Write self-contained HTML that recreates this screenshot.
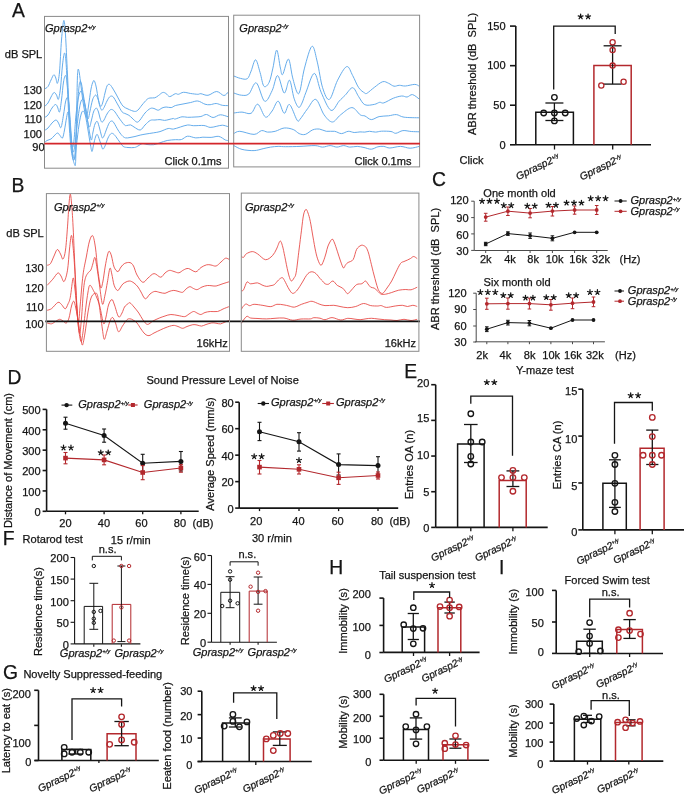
<!DOCTYPE html>
<html><head><meta charset="utf-8"><title>Figure</title>
<style>
html,body{margin:0;padding:0;background:#fff;}
body{width:685px;height:797px;overflow:hidden;}
svg{display:block;}
text{font-family:"Liberation Sans",sans-serif;fill:#151515;stroke:#151515;stroke-width:0.25px;}
svg{will-change:transform;}
</style></head><body>
<svg width="685" height="797" viewBox="0 0 685 797">
<rect x="0" y="0" width="685" height="797" fill="#fff"/>
<path d="M44.5,89 C45.08,88.58 46.92,88 48,86.5 C49.08,85 50.03,81.95 51,80 C51.97,78.05 53,75.13 53.8,74.8 C54.6,74.47 55.2,76.58 55.8,78 C56.4,79.42 56.78,84.3 57.4,83.3 C58.02,82.3 58.82,79.22 59.5,72 C60.18,64.78 60.78,48.58 61.5,40 C62.22,31.42 63.13,21.33 63.8,20.5 C64.47,19.67 64.88,25.92 65.5,35 C66.12,44.08 66.75,60 67.5,75 C68.25,90 69.17,111.67 70,125 C70.83,138.33 71.75,148.5 72.5,155 C73.25,161.5 73.97,163.17 74.5,164 C75.03,164.83 75.33,169 75.7,160 C76.07,151 76.42,123.67 76.7,110 C76.98,96.33 77.17,84.78 77.4,78 C77.63,71.22 77.78,70.13 78.1,69.3 C78.42,68.47 78.82,70.22 79.3,73 C79.78,75.78 80.3,80.67 81,86 C81.7,91.33 82.58,99.83 83.5,105 C84.42,110.17 85.67,116.83 86.5,117 C87.33,117.17 87.75,110.67 88.5,106 C89.25,101.33 90.25,93.03 91,89 C91.75,84.97 92.43,83.13 93,81.8 C93.57,80.47 93.87,80.13 94.4,81 C94.93,81.87 95.52,83.83 96.2,87 C96.88,90.17 97.77,96.78 98.5,100 C99.23,103.22 99.92,105.8 100.6,106.3 C101.28,106.8 101.87,105.22 102.6,103 C103.33,100.78 104.27,95.83 105,93 C105.73,90.17 106.32,87.45 107,86 C107.68,84.55 108.35,84.22 109.1,84.3 C109.85,84.38 110.35,84.88 111.5,86.5 C112.65,88.12 114.58,91.5 116,94 C117.42,96.5 118.8,99.45 120,101.5 C121.2,103.55 121.87,105.05 123.2,106.3 C124.53,107.55 126.12,108.15 128,109 C129.88,109.85 132.83,111.23 134.5,111.4 C136.17,111.57 136.75,111.07 138,110 C139.25,108.93 140.52,106.75 142,105 C143.48,103.25 145.57,100.67 146.9,99.5 C148.23,98.33 148.68,98.28 150,98 C151.32,97.72 153.38,98.22 154.8,97.8 C156.22,97.38 157.18,96.38 158.5,95.5 C159.82,94.62 161.45,92.83 162.7,92.5 C163.95,92.17 164.83,92.82 166,93.5 C167.17,94.18 168.15,96.57 169.7,96.6 C171.25,96.63 173.85,94.08 175.3,93.7 C176.75,93.32 177.03,94.53 178.4,94.3 C179.77,94.07 181.45,92.43 183.5,92.3 C185.55,92.17 188.32,93.17 190.7,93.5 C193.08,93.83 196.1,94.27 197.8,94.3 C199.5,94.33 199.2,93.53 200.9,93.7 C202.6,93.87 205.37,95.67 208,95.3 C210.63,94.93 214.05,91.47 216.7,91.5 C219.35,91.53 221.97,95.42 223.9,95.5 C225.83,95.58 227.57,92.58 228.3,92" fill="none" stroke="#66adec" stroke-width="1"/>
<path d="M44.5,106.5 C45.08,105.92 46.92,104.58 48,103 C49.08,101.42 50,98.75 51,97 C52,95.25 53.08,92.83 54,92.5 C54.92,92.17 55.77,93.87 56.5,95 C57.23,96.13 57.73,100.47 58.4,99.3 C59.07,98.13 59.82,93.72 60.5,88 C61.18,82.28 61.83,70.83 62.5,65 C63.17,59.17 63.92,53.5 64.5,53 C65.08,52.5 65.5,55.83 66,62 C66.5,68.17 66.92,78.67 67.5,90 C68.08,101.33 68.83,119.67 69.5,130 C70.17,140.33 70.78,146.95 71.5,152 C72.22,157.05 73.17,160.63 73.8,160.3 C74.43,159.97 74.72,158.38 75.3,150 C75.88,141.62 76.68,120.5 77.3,110 C77.92,99.5 78.52,91.77 79,87 C79.48,82.23 79.78,81.9 80.2,81.4 C80.62,80.9 80.95,81.57 81.5,84 C82.05,86.43 82.75,91.67 83.5,96 C84.25,100.33 85.25,106.17 86,110 C86.75,113.83 87.33,118.83 88,119 C88.67,119.17 89.25,114.17 90,111 C90.75,107.83 91.75,102.5 92.5,100 C93.25,97.5 93.92,96.8 94.5,96 C95.08,95.2 95.42,94.7 96,95.2 C96.58,95.7 97.37,97.2 98,99 C98.63,100.8 99.17,104.13 99.8,106 C100.43,107.87 101.1,109.95 101.8,110.2 C102.5,110.45 103.13,109.03 104,107.5 C104.87,105.97 106.08,102.75 107,101 C107.92,99.25 108.68,97.82 109.5,97 C110.32,96.18 111.15,95.93 111.9,96.1 C112.65,96.27 112.98,96.52 114,98 C115.02,99.48 116.65,102.68 118,105 C119.35,107.32 120.93,110.48 122.1,111.9 C123.27,113.32 123.87,112.93 125,113.5 C126.13,114.07 127.73,114.55 128.9,115.3 C130.07,116.05 130.68,116.87 132,118 C133.32,119.13 135.47,121.77 136.8,122.1 C138.13,122.43 138.63,121.52 140,120 C141.37,118.48 143.28,114.92 145,113 C146.72,111.08 148.8,109.25 150.3,108.5 C151.8,107.75 152.68,108.22 154,108.5 C155.32,108.78 156.87,110.28 158.2,110.2 C159.53,110.12 160.68,108.53 162,108 C163.32,107.47 164.57,107.07 166.1,107 C167.63,106.93 169.67,107.83 171.2,107.6 C172.73,107.37 173.33,106.2 175.3,105.6 C177.27,105 180.43,104.52 183,104 C185.57,103.48 188.23,103 190.7,102.5 C193.17,102 195.42,100.72 197.8,101 C200.18,101.28 202.95,103.58 205,104.2 C207.05,104.82 208.23,104.82 210.1,104.7 C211.97,104.58 214.17,103.4 216.2,103.5 C218.23,103.6 220.28,104.95 222.3,105.3 C224.32,105.65 227.3,105.55 228.3,105.6" fill="none" stroke="#66adec" stroke-width="1"/>
<path d="M44.5,117.5 C45.08,117.08 46.75,116.58 48,115 C49.25,113.42 50.75,109.75 52,108 C53.25,106.25 54.58,104.67 55.5,104.5 C56.42,104.33 56.83,105.75 57.5,107 C58.17,108.25 58.83,113.17 59.5,112 C60.17,110.83 60.83,105 61.5,100 C62.17,95 62.83,86.08 63.5,82 C64.17,77.92 64.92,75.5 65.5,75.5 C66.08,75.5 66.5,77.92 67,82 C67.5,86.08 67.92,92 68.5,100 C69.08,108 69.85,122.17 70.5,130 C71.15,137.83 71.82,145.33 72.4,147 C72.98,148.67 73.4,145.33 74,140 C74.6,134.67 75.25,122.17 76,115 C76.75,107.83 77.63,101.05 78.5,97 C79.37,92.95 80.45,90.87 81.2,90.7 C81.95,90.53 82.37,93.12 83,96 C83.63,98.88 84.25,103.83 85,108 C85.75,112.17 86.75,117.83 87.5,121 C88.25,124.17 88.83,127.17 89.5,127 C90.17,126.83 90.83,122.5 91.5,120 C92.17,117.5 92.83,113.92 93.5,112 C94.17,110.08 94.97,109.12 95.5,108.5 C96.03,107.88 96.2,107.72 96.7,108.3 C97.2,108.88 97.95,110.38 98.5,112 C99.05,113.62 99.45,116.32 100,118 C100.55,119.68 101.13,121.77 101.8,122.1 C102.47,122.43 103.13,121.35 104,120 C104.87,118.65 106,115.67 107,114 C108,112.33 109.08,110.72 110,110 C110.92,109.28 111.67,109.37 112.5,109.7 C113.33,110.03 113.92,110.62 115,112 C116.08,113.38 117.43,115.85 119,118 C120.57,120.15 123.07,123.65 124.4,124.9 C125.73,126.15 125.97,125.5 127,125.5 C128.03,125.5 129.43,124.65 130.6,124.9 C131.77,125.15 132.4,126.15 134,127 C135.6,127.85 138.37,130.33 140.2,130 C142.03,129.67 143.32,126.6 145,125 C146.68,123.4 148.63,121.23 150.3,120.4 C151.97,119.57 153.38,120.13 155,120 C156.62,119.87 158.4,119.53 160,119.6 C161.6,119.67 163.1,120.42 164.6,120.4 C166.1,120.38 167.55,119.82 169,119.5 C170.45,119.18 172.25,118.58 173.3,118.5 C174.35,118.42 173.85,119.28 175.3,119 C176.75,118.72 179.95,117.08 182,116.8 C184.05,116.52 185.43,117.27 187.6,117.3 C189.77,117.33 192.78,117.13 195,117 C197.22,116.87 198.98,116.92 200.9,116.5 C202.82,116.08 204.47,114.33 206.5,114.5 C208.53,114.67 210.8,117.45 213.1,117.5 C215.4,117.55 217.77,114.92 220.3,114.8 C222.83,114.68 226.97,116.47 228.3,116.8" fill="none" stroke="#66adec" stroke-width="1"/>
<path d="M44.5,130.5 C45.08,130.08 46.75,129.25 48,128 C49.25,126.75 50.67,124.33 52,123 C53.33,121.67 54.92,120 56,120 C57.08,120 57.67,121.75 58.5,123 C59.33,124.25 60.17,128.83 61,127.5 C61.83,126.17 62.75,119.25 63.5,115 C64.25,110.75 64.85,104.9 65.5,102 C66.15,99.1 66.82,97.1 67.4,97.6 C67.98,98.1 68.48,100.43 69,105 C69.52,109.57 70,118.33 70.5,125 C71,131.67 71.5,140.5 72,145 C72.5,149.5 72.92,152.83 73.5,152 C74.08,151.17 74.75,145.67 75.5,140 C76.25,134.33 77.17,124.17 78,118 C78.83,111.83 79.68,106.12 80.5,103 C81.32,99.88 82.15,98.97 82.9,99.3 C83.65,99.63 84.23,101.55 85,105 C85.77,108.45 86.67,115 87.5,120 C88.33,125 89.33,131.67 90,135 C90.67,138.33 91,140.5 91.5,140 C92,139.5 92.42,134.67 93,132 C93.58,129.33 94.28,125.75 95,124 C95.72,122.25 96.55,120.83 97.3,121.5 C98.05,122.17 98.88,125.92 99.5,128 C100.12,130.08 100.53,132.35 101,134 C101.47,135.65 101.8,137.57 102.3,137.9 C102.8,138.23 103.22,137.65 104,136 C104.78,134.35 106.08,130.25 107,128 C107.92,125.75 108.68,123.67 109.5,122.5 C110.32,121.33 111.15,120.92 111.9,121 C112.65,121.08 112.98,121.5 114,123 C115.02,124.5 116.67,127.92 118,130 C119.33,132.08 120.75,134.18 122,135.5 C123.25,136.82 124.17,137.57 125.5,137.9 C126.83,138.23 128.42,137.73 130,137.5 C131.58,137.27 133.3,136.9 135,136.5 C136.7,136.1 138.37,135.52 140.2,135.1 C142.03,134.68 143.75,134.38 146,134 C148.25,133.62 151.37,133.2 153.7,132.8 C156.03,132.4 157.58,132.32 160,131.6 C162.42,130.88 165.98,128.92 168.2,128.5 C170.42,128.08 171.27,129.35 173.3,129.1 C175.33,128.85 178.02,127.68 180.4,127 C182.78,126.32 185.38,125.22 187.6,125 C189.82,124.78 190.98,125.62 193.7,125.7 C196.42,125.78 201.17,125.22 203.9,125.5 C206.63,125.78 208.05,127.25 210.1,127.4 C212.15,127.55 214.17,126.77 216.2,126.4 C218.23,126.03 220.28,125.15 222.3,125.2 C224.32,125.25 227.3,126.45 228.3,126.7" fill="none" stroke="#66adec" stroke-width="1"/>
<path d="M44.5,142.5 C44.92,142.17 45.92,141.08 47,140.5 C48.08,139.92 49.83,139.75 51,139 C52.17,138.25 52.92,137 54,136 C55.08,135 56.5,133.08 57.5,133 C58.5,132.92 59.17,134.67 60,135.5 C60.83,136.33 61.75,138.92 62.5,138 C63.25,137.08 63.83,133.33 64.5,130 C65.17,126.67 65.92,121 66.5,118 C67.08,115 67.5,111.67 68,112 C68.5,112.33 69,115.33 69.5,120 C70,124.67 70.42,134.17 71,140 C71.58,145.83 72.37,152 73,155 C73.63,158 74.22,159.67 74.8,158 C75.38,156.33 75.8,150.5 76.5,145 C77.2,139.5 78.17,130.33 79,125 C79.83,119.67 80.73,115.27 81.5,113 C82.27,110.73 82.93,110.9 83.6,111.4 C84.27,111.9 84.77,112.9 85.5,116 C86.23,119.1 87.17,125.17 88,130 C88.83,134.83 89.83,141.42 90.5,145 C91.17,148.58 91.5,151.5 92,151.5 C92.5,151.5 92.92,147.42 93.5,145 C94.08,142.58 94.87,138.75 95.5,137 C96.13,135.25 96.63,134 97.3,134.5 C97.97,135 98.8,138.08 99.5,140 C100.2,141.92 100.93,144.47 101.5,146 C102.07,147.53 102.32,149.2 102.9,149.2 C103.48,149.2 104.15,147.87 105,146 C105.85,144.13 107.08,140 108,138 C108.92,136 109.75,134.77 110.5,134 C111.25,133.23 111.75,133.15 112.5,133.4 C113.25,133.65 113.92,134.23 115,135.5 C116.08,136.77 117.63,139.18 119,141 C120.37,142.82 121.7,145.32 123.2,146.4 C124.7,147.48 126.12,147.32 128,147.5 C129.88,147.68 132.83,147.75 134.5,147.5 C136.17,147.25 136.68,146.65 138,146 C139.32,145.35 140.9,143.85 142.4,143.6 C143.9,143.35 145.12,144.32 147,144.5 C148.88,144.68 151.53,144.98 153.7,144.7 C155.87,144.42 157.75,143.5 160,142.8 C162.25,142.1 164.65,141.02 167.2,140.5 C169.75,139.98 172.92,139.87 175.3,139.7 C177.68,139.53 179.45,140.08 181.5,139.5 C183.55,138.92 185.22,136.47 187.6,136.2 C189.98,135.93 193.25,137.73 195.8,137.9 C198.35,138.07 200.35,137.28 202.9,137.2 C205.45,137.12 208.45,137.53 211.1,137.4 C213.75,137.27 216.42,135.97 218.8,136.4 C221.18,136.83 223.82,139.32 225.4,140 C226.98,140.68 227.82,140.42 228.3,140.5" fill="none" stroke="#66adec" stroke-width="1"/>
<path d="M233.8,76 C234.92,76.4 238.25,77.95 240.5,78.4 C242.75,78.85 245.53,79.92 247.3,78.7 C249.07,77.48 249.72,74.25 251.1,71.1 C252.48,67.95 254.1,59.55 255.6,59.8 C257.1,60.05 258.72,68.2 260.1,72.6 C261.48,77 262.4,84.57 263.9,86.2 C265.4,87.83 267.6,85.42 269.1,82.4 C270.6,79.38 271.63,73.48 272.9,68.1 C274.17,62.72 275.45,50.1 276.7,50.1 C277.95,50.1 279.4,64.05 280.4,68.1 C281.4,72.15 281.37,75.9 282.7,74.4 C284.03,72.9 286.77,58.65 288.4,59.1 C290.03,59.55 291.07,71.58 292.5,77.1 C293.93,82.62 295.75,89.93 297,92.2 C298.25,94.47 298.75,94.72 300,90.7 C301.25,86.68 302.5,75.5 304.5,68.1 C306.5,60.7 309.87,47.3 312,46.3 C314.13,45.3 315.53,55.2 317.3,62.1 C319.07,69 320.58,81.48 322.6,87.7 C324.62,93.92 326.9,100.65 329.4,99.4 C331.9,98.15 334.72,85.67 337.6,80.2 C340.48,74.73 344.18,67.37 346.7,66.6 C349.22,65.83 350.7,72.08 352.7,75.6 C354.7,79.12 356.7,84.8 358.7,87.7 C360.7,90.6 363.28,92.1 364.7,93 C366.12,93.9 365.6,94.03 367.2,93.1 C368.8,92.17 371.72,89.3 374.3,87.4 C376.88,85.5 380.32,82.38 382.7,81.7 C385.08,81.02 386.72,82.55 388.6,83.3 C390.48,84.05 392.22,85.87 394,86.2 C395.78,86.53 397.42,85.33 399.3,85.3 C401.18,85.27 402.72,86.15 405.3,86 C407.88,85.85 412.47,84.37 414.8,84.4 C417.13,84.43 418.55,85.9 419.3,86.2" fill="none" stroke="#66adec" stroke-width="1"/>
<path d="M233.8,93 C235.05,93.37 238.8,95.03 241.3,95.2 C243.8,95.37 246.3,96.05 248.8,94 C251.3,91.95 253.67,81.7 256.3,82.9 C258.93,84.1 261.97,99.9 264.6,101.2 C267.23,102.5 269.92,94.97 272.1,90.7 C274.28,86.43 275.68,75.22 277.7,75.6 C279.72,75.98 282.23,92.23 284.2,93 C286.17,93.77 287.87,79.33 289.5,80.2 C291.13,81.07 292.5,93.68 294,98.2 C295.5,102.72 297.17,106.5 298.5,107.3 C299.83,108.1 300.75,105.52 302,103 C303.25,100.48 303.95,97.13 306,92.2 C308.05,87.27 311.78,73.4 314.3,73.4 C316.82,73.4 318.33,86.05 321.1,92.2 C323.87,98.35 327.9,108.8 330.9,110.3 C333.9,111.8 336.72,103.72 339.1,101.2 C341.48,98.68 342.93,97.45 345.2,95.2 C347.47,92.95 350.45,87.45 352.7,87.7 C354.95,87.95 356.68,93.87 358.7,96.7 C360.72,99.53 362.2,103.42 364.8,104.7 C367.4,105.98 371.82,104.8 374.3,104.4 C376.78,104 378.12,102.55 379.7,102.3 C381.28,102.05 381.52,103.58 383.8,102.9 C386.08,102.22 390.42,99.35 393.4,98.2 C396.38,97.05 399.42,96.2 401.7,96 C403.98,95.8 405.3,97.23 407.1,97 C408.9,96.77 410.47,94.25 412.5,94.6 C414.53,94.95 418.17,98.35 419.3,99.1" fill="none" stroke="#66adec" stroke-width="1"/>
<path d="M233.8,113 C235.17,112.85 239.12,112.05 242,112.1 C244.88,112.15 248.47,114.62 251.1,113.3 C253.73,111.98 255.42,103.58 257.8,104.2 C260.18,104.82 263.02,115.87 265.4,117 C267.78,118.13 269.97,113.63 272.1,111 C274.23,108.37 276.18,100.82 278.2,101.2 C280.22,101.58 282.32,112.75 284.2,113.3 C286.08,113.85 287.37,103.38 289.5,104.5 C291.63,105.62 295.25,117.53 297,120 C298.75,122.47 298.25,121.17 300,119.3 C301.75,117.43 304.87,112.12 307.5,108.8 C310.13,105.48 313.03,98.4 315.8,99.4 C318.57,100.4 321.33,111.03 324.1,114.8 C326.87,118.57 329.65,122 332.4,122 C335.15,122 337.35,117.2 340.6,114.8 C343.85,112.4 348.63,107.6 351.9,107.6 C355.17,107.6 358.02,113.4 360.2,114.8 C362.38,116.2 363.15,115.2 365,116 C366.85,116.8 368.95,119.5 371.3,119.6 C373.65,119.7 376.22,117.23 379.1,116.6 C381.98,115.97 385.72,116.13 388.6,115.8 C391.48,115.47 393.82,114.37 396.4,114.6 C398.98,114.83 400.28,116.67 404.1,117.2 C407.92,117.73 416.77,117.7 419.3,117.8" fill="none" stroke="#66adec" stroke-width="1"/>
<path d="M233.8,133.6 C234.8,133.22 236.42,131.17 239.8,131.3 C243.18,131.43 250.47,134.52 254.1,134.4 C257.73,134.28 259.35,130.98 261.6,130.6 C263.85,130.22 265.33,131.98 267.6,132.1 C269.87,132.22 272.43,131.98 275.2,131.3 C277.97,130.62 281.2,128.3 284.2,128 C287.2,127.7 290.7,128.57 293.2,129.5 C295.7,130.43 297.18,132.78 299.2,133.6 C301.22,134.42 303.03,135.03 305.3,134.4 C307.57,133.77 310.42,130.68 312.8,129.8 C315.18,128.92 317.35,128.85 319.6,129.1 C321.85,129.35 323.8,130.93 326.3,131.3 C328.8,131.67 332.08,130.92 334.6,131.3 C337.12,131.68 339.13,133.6 341.4,133.6 C343.67,133.6 346.07,131.48 348.2,131.3 C350.33,131.12 352.23,132.4 354.2,132.5 C356.17,132.6 358.23,131.97 360,131.9 C361.77,131.83 363.22,132.2 364.8,132.1 C366.38,132 367.72,131.3 369.5,131.3 C371.28,131.3 373.5,132.12 375.5,132.1 C377.5,132.08 378.92,131.3 381.5,131.2 C384.08,131.1 388.62,131.15 391,131.5 C393.38,131.85 393.82,133.45 395.8,133.3 C397.78,133.15 400.32,130.9 402.9,130.6 C405.48,130.3 408.57,131.3 411.3,131.5 C414.03,131.7 417.97,131.75 419.3,131.8" fill="none" stroke="#66adec" stroke-width="1"/>
<path d="M233.8,145.6 C235.17,146.23 238.62,148.57 242,149.4 C245.38,150.23 250.58,150.72 254.1,150.6 C257.62,150.48 260.35,149.28 263.1,148.7 C265.85,148.12 268.08,147.48 270.6,147.1 C273.12,146.72 275.68,146.47 278.2,146.4 C280.72,146.33 282.07,146.7 285.7,146.7 C289.33,146.7 295.1,146.58 300,146.4 C304.9,146.22 311.33,145.48 315.1,145.6 C318.87,145.72 320.1,147.1 322.6,147.1 C325.1,147.1 327.72,145.6 330.1,145.6 C332.48,145.6 334.63,147.1 336.9,147.1 C339.17,147.1 341.57,145.6 343.7,145.6 C345.83,145.6 347.45,146.97 349.7,147.1 C351.95,147.23 354.82,146.33 357.2,146.4 C359.58,146.47 361.65,147.03 364,147.5 C366.35,147.97 368.98,149.32 371.3,149.2 C373.62,149.08 375.82,147.27 377.9,146.8 C379.98,146.33 381.82,146.2 383.8,146.4 C385.78,146.6 387.02,148 389.8,148 C392.58,148 397.12,146.37 400.5,146.4 C403.88,146.43 406.97,148.2 410.1,148.2 C413.23,148.2 417.77,146.7 419.3,146.4" fill="none" stroke="#66adec" stroke-width="1"/>
<path d="M47.1,265.3 C47.67,265.02 49.35,265.15 50.5,263.6 C51.65,262.05 52.87,258.35 54,256 C55.13,253.65 56.22,249.83 57.3,249.5 C58.38,249.17 59.55,252.4 60.5,254 C61.45,255.6 62.17,259.77 63,259.1 C63.83,258.43 64.75,255.37 65.5,250 C66.25,244.63 66.92,234.57 67.5,226.9 C68.08,219.23 68.53,209.47 69,204 C69.47,198.53 69.87,194.1 70.3,194.1 C70.73,194.1 71.13,198.53 71.6,204 C72.07,209.47 72.45,214.23 73.1,226.9 C73.75,239.57 74.77,265.32 75.5,280 C76.23,294.68 76.98,307.87 77.5,315 C78.02,322.13 78.15,324.47 78.6,322.8 C79.05,321.13 79.47,312.97 80.2,305 C80.93,297.03 81.98,283 83,275 C84.02,267 85.22,262.67 86.3,257 C87.38,251.33 88.42,244.53 89.5,241 C90.58,237.47 91.8,234.63 92.8,235.8 C93.8,236.97 94.7,242.63 95.5,248 C96.3,253.37 96.75,261.43 97.6,268 C98.45,274.57 99.73,285.07 100.6,287.4 C101.47,289.73 102.05,285.38 102.8,282 C103.55,278.62 104.32,271.6 105.1,267.1 C105.88,262.6 106.8,257.63 107.5,255 C108.2,252.37 108.63,251.13 109.3,251.3 C109.97,251.47 110.7,253.37 111.5,256 C112.3,258.63 113.03,264.5 114.1,267.1 C115.17,269.7 116.75,271.62 117.9,271.6 C119.05,271.58 119.87,268.37 121,267 C122.13,265.63 123.2,264.13 124.7,263.4 C126.2,262.67 128.53,262.17 130,262.6 C131.47,263.03 132.33,263.93 133.5,266 C134.67,268.07 135.45,272.28 137,275 C138.55,277.72 140.97,281.8 142.8,282.3 C144.63,282.8 146.12,279.45 148,278 C149.88,276.55 151.98,273.73 154.1,273.6 C156.22,273.47 158.88,277.3 160.7,277.2 C162.52,277.1 163.55,274.13 165,273 C166.45,271.87 167.9,270.65 169.4,270.4 C170.9,270.15 172.42,271.1 174,271.5 C175.58,271.9 177.32,273.05 178.9,272.8 C180.48,272.55 181.92,270.72 183.5,270 C185.08,269.28 186.37,268.2 188.4,268.5 C190.43,268.8 193.6,271.97 195.7,271.8 C197.8,271.63 199.18,268.67 201,267.5 C202.82,266.33 204.93,265.22 206.6,264.8 C208.27,264.38 209.42,264.8 211,265 C212.58,265.2 214.43,266.5 216.1,266 C217.77,265.5 219.42,263.3 221,262 C222.58,260.7 224.17,258.58 225.6,258.2 C227.03,257.82 228.93,259.45 229.6,259.7" fill="none" stroke="#e6423f" stroke-width="0.85"/>
<path d="M47.1,285.4 C48.05,284.37 51,281.27 52.8,279.2 C54.6,277.13 56.53,273.53 57.9,273 C59.27,272.47 59.97,274.58 61,276 C62.03,277.42 63.02,282.47 64.1,281.5 C65.18,280.53 66.6,275.62 67.5,270.2 C68.4,264.78 68.85,254.8 69.5,249 C70.15,243.2 70.82,235.9 71.4,235.4 C71.98,234.9 72.43,240.23 73,246 C73.57,251.77 74.13,259.33 74.8,270 C75.47,280.67 76.22,299.45 77,310 C77.78,320.55 78.75,331.97 79.5,333.3 C80.25,334.63 80.83,325.22 81.5,318 C82.17,310.78 82.83,296.72 83.5,290 C84.17,283.28 84.67,280.63 85.5,277.7 C86.33,274.77 87.62,273.67 88.5,272.4 C89.38,271.13 90.08,271.5 90.8,270.1 C91.52,268.7 92.12,266.12 92.8,264 C93.48,261.88 94.2,256.73 94.9,257.4 C95.6,258.07 96.3,263.87 97,268 C97.7,272.13 98.2,276.2 99.1,282.2 C100,288.2 101.42,301.87 102.4,304 C103.38,306.13 104.17,298.63 105,295 C105.83,291.37 106.58,286.65 107.4,282.2 C108.22,277.75 109.17,269.67 109.9,268.3 C110.63,266.93 111.1,271.18 111.8,274 C112.5,276.82 113.17,282.45 114.1,285.2 C115.03,287.95 116.42,290.03 117.4,290.5 C118.38,290.97 119.05,289.13 120,288 C120.95,286.87 121.57,284.87 123.1,283.7 C124.63,282.53 127.38,281.12 129.2,281 C131.02,280.88 132.53,282 134,283 C135.47,284 136.83,285.5 138,287 C139.17,288.5 139.78,290.03 141,292 C142.22,293.97 143.8,298.47 145.3,298.8 C146.8,299.13 148.42,295.23 150,294 C151.58,292.77 153.13,291.65 154.8,291.4 C156.47,291.15 158.3,292.18 160,292.5 C161.7,292.82 163.5,293.47 165,293.3 C166.5,293.13 167.53,291.98 169,291.5 C170.47,291.02 172.3,290.43 173.8,290.4 C175.3,290.37 176.53,290.98 178,291.3 C179.47,291.62 181.27,292.68 182.6,292.3 C183.93,291.92 184.78,289.93 186,289 C187.22,288.07 188.65,286.78 189.9,286.7 C191.15,286.62 192.28,288.02 193.5,288.5 C194.72,288.98 195.78,289.85 197.2,289.6 C198.62,289.35 200.3,287.68 202,287 C203.7,286.32 205.73,285.7 207.4,285.5 C209.07,285.3 210.55,285.72 212,285.8 C213.45,285.88 214.43,286.3 216.1,286 C217.77,285.7 219.75,284.73 222,284 C224.25,283.27 228.33,282 229.6,281.6" fill="none" stroke="#e6423f" stroke-width="0.85"/>
<path d="M47.1,310.3 C47.85,310.02 49.8,309.92 51.6,308.6 C53.4,307.28 56.25,303.08 57.9,302.4 C59.55,301.72 60.28,303.43 61.5,304.5 C62.72,305.57 64.12,308.88 65.2,308.8 C66.28,308.72 67.15,305.92 68,304 C68.85,302.08 69.45,301.62 70.3,297.3 C71.15,292.98 72.35,279.65 73.1,278.1 C73.85,276.55 74.23,283.52 74.8,288 C75.37,292.48 75.88,298.33 76.5,305 C77.12,311.67 77.75,321.9 78.5,328 C79.25,334.1 80.25,340.93 81,341.6 C81.75,342.27 82.25,337.27 83,332 C83.75,326.73 84.67,316.67 85.5,310 C86.33,303.33 87.25,296.13 88,292 C88.75,287.87 89.03,285.33 90,285.2 C90.97,285.07 92.72,289.23 93.8,291.2 C94.88,293.17 95.5,294.48 96.5,297 C97.5,299.52 98.62,301.87 99.8,306.3 C100.98,310.73 102.57,321.82 103.6,323.6 C104.63,325.38 105.18,320.1 106,317 C106.82,313.9 107.52,307.92 108.5,305 C109.48,302.08 110.9,299.5 111.9,299.5 C112.9,299.5 113.38,302.12 114.5,305 C115.62,307.88 117.35,315.47 118.6,316.8 C119.85,318.13 121.02,314.63 122,313 C122.98,311.37 123.55,308.5 124.5,307 C125.45,305.5 126.78,304.7 127.7,304 C128.62,303.3 128.95,302.3 130,302.8 C131.05,303.3 132.53,305.3 134,307 C135.47,308.7 137.3,310.83 138.8,313 C140.3,315.17 141.55,318.1 143,320 C144.45,321.9 145.83,324.23 147.5,324.4 C149.17,324.57 151.05,322.05 153,321 C154.95,319.95 157.2,318.93 159.2,318.1 C161.2,317.27 163.05,316.6 165,316 C166.95,315.4 168.73,314.58 170.9,314.5 C173.07,314.42 175.7,315.15 178,315.5 C180.3,315.85 182.87,316.85 184.7,316.6 C186.53,316.35 187.53,314.85 189,314 C190.47,313.15 192.17,311.67 193.5,311.5 C194.83,311.33 195.78,312.5 197,313 C198.22,313.5 199.47,314.58 200.8,314.5 C202.13,314.42 203.42,313 205,312.5 C206.58,312 208.2,311.67 210.3,311.5 C212.4,311.33 215.48,311.92 217.6,311.5 C219.72,311.08 221,309.85 223,309 C225,308.15 228.5,306.83 229.6,306.4" fill="none" stroke="#e6423f" stroke-width="0.85"/>
<path d="M47.1,323 C47.85,323.13 50.2,324.05 51.6,323.8 C53,323.55 54.17,322.25 55.5,321.5 C56.83,320.75 58.35,319.38 59.6,319.3 C60.85,319.22 61.88,320.38 63,321 C64.12,321.62 65.3,323.5 66.3,323 C67.3,322.5 68.13,320.83 69,318 C69.87,315.17 70.72,308.8 71.5,306 C72.28,303.2 72.98,300.87 73.7,301.2 C74.42,301.53 74.95,304.03 75.8,308 C76.65,311.97 77.97,320 78.8,325 C79.63,330 80.18,334.67 80.8,338 C81.42,341.33 81.8,345.83 82.5,345 C83.2,344.17 84.08,338.5 85,333 C85.92,327.5 87,317.83 88,312 C89,306.17 89.9,301.08 91,298 C92.1,294.92 93.5,293.88 94.6,293.5 C95.7,293.12 96.6,292.07 97.6,295.7 C98.6,299.33 99.78,309.58 100.6,315.3 C101.42,321.02 101.88,325.98 102.5,330 C103.12,334.02 103.55,339.23 104.3,339.4 C105.05,339.57 106.05,334.07 107,331 C107.95,327.93 109.07,323.25 110,321 C110.93,318.75 111.68,317.17 112.6,317.5 C113.52,317.83 114.5,320.62 115.5,323 C116.5,325.38 117.43,331.3 118.6,331.8 C119.77,332.3 121.12,328 122.5,326 C123.88,324 125.65,321 126.9,319.8 C128.15,318.6 128.98,318.77 130,318.8 C131.02,318.83 131.83,319.3 133,320 C134.17,320.7 135.67,321.5 137,323 C138.33,324.5 139.67,327.17 141,329 C142.33,330.83 143.67,332.9 145,334 C146.33,335.1 147.5,335.77 149,335.6 C150.5,335.43 152.05,333.97 154,333 C155.95,332.03 158.7,330.72 160.7,329.8 C162.7,328.88 163.93,328.23 166,327.5 C168.07,326.77 171.1,325.57 173.1,325.4 C175.1,325.23 176.42,326.02 178,326.5 C179.58,326.98 181.1,328.3 182.6,328.3 C184.1,328.3 185.3,327.1 187,326.5 C188.7,325.9 191.13,324.95 192.8,324.7 C194.47,324.45 195.55,324.77 197,325 C198.45,325.23 200,326.18 201.5,326.1 C203,326.02 204.28,325.03 206,324.5 C207.72,323.97 210.13,323.12 211.8,322.9 C213.47,322.68 214.55,323.03 216,323.2 C217.45,323.37 219,324.1 220.5,323.9 C222,323.7 223.48,322.6 225,322 C226.52,321.4 228.83,320.58 229.6,320.3" fill="none" stroke="#e6423f" stroke-width="0.85"/>
<path d="M241.4,256.2 C241.75,256.4 242.7,257.78 243.5,257.4 C244.3,257.02 244.73,254.87 246.2,253.9 C247.67,252.93 250.4,251.6 252.3,251.6 C254.2,251.6 255.4,252.55 257.6,253.9 C259.8,255.25 263.02,259.42 265.5,259.7 C267.98,259.98 270.67,257.38 272.5,255.6 C274.33,253.82 275.23,251.42 276.5,249 C277.77,246.58 279.1,241.6 280.1,241.1 C281.1,240.6 281.72,243.43 282.5,246 C283.28,248.57 283.88,252.17 284.8,256.5 C285.72,260.83 286.97,267.95 288,272 C289.03,276.05 290,279.8 291,280.8 C292,281.8 293.13,279.42 294,278 C294.87,276.58 295.37,276.97 296.2,272.3 C297.03,267.63 298.12,257.02 299,250 C299.88,242.98 300.75,236.03 301.5,230.2 C302.25,224.37 302.77,218.47 303.5,215 C304.23,211.53 305.15,209.73 305.9,209.4 C306.65,209.07 307.27,211 308,213 C308.73,215 309.47,217.4 310.3,221.4 C311.13,225.4 312.12,232.03 313,237 C313.88,241.97 314.77,247.37 315.6,251.2 C316.43,255.03 317.12,257.65 318,260 C318.88,262.35 319.98,265.13 320.9,265.3 C321.82,265.47 322.63,263.05 323.5,261 C324.37,258.95 325.35,255.5 326.1,253 C326.85,250.5 327.02,248.3 328,246 C328.98,243.7 330.92,239.7 332,239.2 C333.08,238.7 333.62,241 334.5,243 C335.38,245 336.3,248.2 337.3,251.2 C338.3,254.2 339.48,258.22 340.5,261 C341.52,263.78 342.57,267.23 343.4,267.9 C344.23,268.57 344.77,265.88 345.5,265 C346.23,264.12 346.53,263.5 347.8,262.6 C349.07,261.7 351.63,261.8 353.1,259.6 C354.57,257.4 355.28,251.77 356.6,249.4 C357.92,247.03 359.77,246 361,245.4 C362.23,244.8 363.12,245.42 364,245.8 C364.88,246.18 365.55,246.5 366.3,247.7 C367.05,248.9 367.77,250.67 368.5,253 C369.23,255.33 369.78,258.03 370.7,261.7 C371.62,265.37 372.83,270.6 374,275 C375.17,279.4 376.7,285.27 377.7,288.1 C378.7,290.93 379.13,291.13 380,292 C380.87,292.87 381.73,293.97 382.9,293.3 C384.07,292.63 385.53,290.05 387,288 C388.47,285.95 390.2,283.67 391.7,281 C393.2,278.33 394.53,274.92 396,272 C397.47,269.08 399.17,265.25 400.5,263.5 C401.83,261.75 402.83,262.08 404,261.5 C405.17,260.92 406.42,260.5 407.5,260 C408.58,259.5 409.47,259.08 410.5,258.5 C411.53,257.92 412.58,256.48 413.7,256.5 C414.82,256.52 416.62,258.25 417.2,258.6" fill="none" stroke="#e6423f" stroke-width="0.85"/>
<path d="M241.4,290.8 C241.75,290.65 242.57,291.37 243.5,289.9 C244.43,288.43 245.83,283.02 247,282 C248.17,280.98 248.73,283.65 250.5,283.8 C252.27,283.95 255.68,282.7 257.6,282.9 C259.52,283.1 260.53,284.42 262,285 C263.47,285.58 265.07,286.27 266.4,286.4 C267.73,286.53 268.68,286.1 270,285.8 C271.32,285.5 272.88,285.57 274.3,284.6 C275.72,283.63 277.18,281.17 278.5,280 C279.82,278.83 281.2,277.52 282.2,277.6 C283.2,277.68 283.77,279.33 284.5,280.5 C285.23,281.67 285.77,283.02 286.6,284.6 C287.43,286.18 288.48,288.53 289.5,290 C290.52,291.47 291.53,293.23 292.7,293.4 C293.87,293.57 295.32,292.17 296.5,291 C297.68,289.83 298.8,287.9 299.8,286.4 C300.8,284.9 301.63,283.47 302.5,282 C303.37,280.53 304.08,279.02 305,277.6 C305.92,276.18 306.97,274.47 308,273.5 C309.03,272.53 310.12,271.97 311.2,271.8 C312.28,271.63 313.48,271.97 314.5,272.5 C315.52,273.03 316.38,274 317.3,275 C318.22,276 319.12,277.48 320,278.5 C320.88,279.52 321.77,280.23 322.6,281.1 C323.43,281.97 324.02,283.18 325,283.7 C325.98,284.22 327.18,284.65 328.5,284.2 C329.82,283.75 331.43,280.8 332.9,281 C334.37,281.2 335.68,284.22 337.3,285.4 C338.92,286.58 341.23,287.08 342.6,288.1 C343.97,289.12 344.63,290.57 345.5,291.5 C346.37,292.43 346.8,293.95 347.8,293.7 C348.8,293.45 350.03,291.52 351.5,290 C352.97,288.48 354.87,285.65 356.6,284.6 C358.33,283.55 360.43,284.3 361.9,283.7 C363.37,283.1 364.38,280.95 365.4,281 C366.42,281.05 367.12,282.97 368,284 C368.88,285.03 369.67,286.52 370.7,287.2 C371.73,287.88 373.07,287.47 374.2,288.1 C375.33,288.73 376.33,289.98 377.5,291 C378.67,292.02 379.85,293.67 381.2,294.2 C382.55,294.73 383.85,294.48 385.6,294.2 C387.35,293.92 389.52,293.17 391.7,292.5 C393.88,291.83 396.35,290.7 398.7,290.2 C401.05,289.7 403.75,289.57 405.8,289.5 C407.85,289.43 409.1,290.18 411,289.8 C412.9,289.42 416.17,287.63 417.2,287.2" fill="none" stroke="#e6423f" stroke-width="0.85"/>
<path d="M241.4,309.3 C241.75,308.75 242.7,306.88 243.5,306 C244.3,305.12 245.17,304.05 246.2,304 C247.23,303.95 248.38,305.65 249.7,305.7 C251.02,305.75 251.9,304.35 254.1,304.3 C256.3,304.25 260.12,305.02 262.9,305.4 C265.68,305.78 268.47,306.78 270.8,306.6 C273.13,306.42 274.72,304.58 276.9,304.3 C279.08,304.02 281.88,304.62 283.9,304.9 C285.92,305.18 287.23,305.63 289,306 C290.77,306.37 292.42,307.38 294.5,307.1 C296.58,306.82 299.42,305.07 301.5,304.3 C303.58,303.53 305.23,303 307,302.5 C308.77,302 310.08,301.05 312.1,301.3 C314.12,301.55 316.95,303.28 319.1,304 C321.25,304.72 322.55,305.38 325,305.6 C327.45,305.82 331.3,305.15 333.8,305.3 C336.3,305.45 337.67,306.1 340,306.5 C342.33,306.9 345.18,307.7 347.8,307.7 C350.42,307.7 353.07,307.2 355.7,306.5 C358.33,305.8 361.1,303.65 363.6,303.5 C366.1,303.35 368.35,305.18 370.7,305.6 C373.05,306.02 375.95,306 377.7,306 C379.45,306 379.73,305.37 381.2,305.6 C382.67,305.83 384.17,307.33 386.5,307.4 C388.83,307.47 392.57,306.35 395.2,306 C397.83,305.65 400.25,305.22 402.3,305.3 C404.35,305.38 405.75,306.5 407.5,306.5 C409.25,306.5 411.18,305.3 412.8,305.3 C414.42,305.3 416.47,306.3 417.2,306.5" fill="none" stroke="#e6423f" stroke-width="0.85"/>
<path d="M241.4,323.3 C241.75,322.75 242.57,321.17 243.5,320 C244.43,318.83 245.83,316.63 247,316.3 C248.17,315.97 248.67,317.63 250.5,318 C252.33,318.37 255.35,318.35 258,318.5 C260.65,318.65 263.57,318.93 266.4,318.9 C269.23,318.87 272.08,318.45 275,318.3 C277.92,318.15 280.95,317.68 283.9,318 C286.85,318.32 289.85,320.03 292.7,320.2 C295.55,320.37 298.07,319.22 301,319 C303.93,318.78 308.17,319.12 310.3,318.9 C312.43,318.68 312.18,317.82 313.8,317.7 C315.42,317.58 318.13,317.87 320,318.2 C321.87,318.53 323,319.8 325,319.7 C327,319.6 329.37,317.55 332,317.6 C334.63,317.65 338.17,319.88 340.8,320 C343.43,320.12 345.6,318.47 347.8,318.3 C350,318.13 351.95,318.77 354,319 C356.05,319.23 358.1,319.73 360.1,319.7 C362.1,319.67 364.1,319.03 366,318.8 C367.9,318.57 369.5,318.27 371.5,318.3 C373.5,318.33 375.8,318.77 378,319 C380.2,319.23 382.53,319.53 384.7,319.7 C386.87,319.87 388.95,319.87 391,320 C393.05,320.13 394.83,320.62 397,320.5 C399.17,320.38 401.67,319.3 404,319.3 C406.33,319.3 408.8,320.5 411,320.5 C413.2,320.5 416.17,319.5 417.2,319.3" fill="none" stroke="#e6423f" stroke-width="0.85"/>
<line x1="45.3" y1="321.4" x2="420" y2="321.4" stroke="#111" stroke-width="1.6"/>
<text x="12.1" y="16.9" font-size="19.3">A</text>
<text x="4.8" y="57.6" font-size="11.05">dB SPL</text>
<text x="42" y="94.1" font-size="11.05" text-anchor="end">130</text>
<text x="42" y="108.6" font-size="11.05" text-anchor="end">120</text>
<text x="42" y="122.9" font-size="11.05" text-anchor="end">110</text>
<text x="42" y="138.4" font-size="11.05" text-anchor="end">100</text>
<text x="44.6" y="151.3" font-size="11.05" text-anchor="end">90</text>
<rect x="44.5" y="16.4" width="184" height="151.8" fill="none" stroke="#8a8a8a" stroke-width="1"/>
<rect x="233.7" y="15.2" width="185.9" height="151.7" fill="none" stroke="#8a8a8a" stroke-width="1"/>
<line x1="44.5" y1="143.6" x2="420" y2="143.6" stroke="#d3262b" stroke-width="1.6"/>
<text x="45" y="32" font-size="11.05" font-style="italic">Gprasp2<tspan font-size="5.97" dy="-3.43">+/y</tspan></text>
<text x="239.3" y="31.5" font-size="11.05" font-style="italic">Gprasp2<tspan font-size="5.97" dy="-3.43">-/y</tspan></text>
<text x="221.6" y="165.4" font-size="11.05" text-anchor="end">Click 0.1ms</text>
<text x="411.5" y="164.7" font-size="11.05" text-anchor="end">Click 0.1ms</text>
<line x1="515.8" y1="26.1" x2="515.8" y2="144.8" stroke="#151515" stroke-width="1.6"/>
<line x1="510" y1="26.1" x2="515.8" y2="26.1" stroke="#151515" stroke-width="1.6"/>
<text x="505.6" y="29.9" font-size="11.05" text-anchor="end">150</text>
<line x1="510" y1="65.67" x2="515.8" y2="65.67" stroke="#151515" stroke-width="1.6"/>
<text x="505.6" y="69.3" font-size="11.05" text-anchor="end">100</text>
<line x1="510" y1="105.23" x2="515.8" y2="105.23" stroke="#151515" stroke-width="1.6"/>
<text x="505.6" y="109" font-size="11.05" text-anchor="end">50</text>
<line x1="510" y1="144.8" x2="515.8" y2="144.8" stroke="#151515" stroke-width="1.6"/>
<text x="505.6" y="148.6" font-size="11.05" text-anchor="end">0</text>
<line x1="515.8" y1="144.8" x2="651" y2="144.8" stroke="#151515" stroke-width="1.6"/>
<line x1="554.5" y1="144.8" x2="554.5" y2="149.5" stroke="#151515" stroke-width="1.3"/>
<line x1="612.7" y1="144.8" x2="612.7" y2="149.5" stroke="#151515" stroke-width="1.3"/>
<polyline points="535.8,144.8 535.8,112.3 573.4,112.3 573.4,144.8" fill="none" stroke="#151515" stroke-width="1.5" stroke-linejoin="miter"/>
<polyline points="593.9,144.8 593.9,65.6 631.2,65.6 631.2,144.8" fill="none" stroke="#b3282d" stroke-width="1.5" stroke-linejoin="miter"/>
<line x1="554.4" y1="103" x2="554.4" y2="120.5" stroke="#151515" stroke-width="1.3"/>
<line x1="545.4" y1="103" x2="563.4" y2="103" stroke="#151515" stroke-width="1.3"/>
<line x1="545.4" y1="120.5" x2="563.4" y2="120.5" stroke="#151515" stroke-width="1.3"/>
<line x1="612.6" y1="45.8" x2="612.6" y2="84.1" stroke="#151515" stroke-width="1.3"/>
<line x1="603.6" y1="45.8" x2="621.6" y2="45.8" stroke="#151515" stroke-width="1.3"/>
<line x1="603.6" y1="84.1" x2="621.6" y2="84.1" stroke="#151515" stroke-width="1.3"/>
<circle cx="543.7" cy="113" r="2.75" fill="none" stroke="#151515" stroke-width="1.35"/>
<circle cx="554.4" cy="113" r="2.75" fill="none" stroke="#151515" stroke-width="1.35"/>
<circle cx="565.2" cy="113" r="2.75" fill="none" stroke="#151515" stroke-width="1.35"/>
<circle cx="554.4" cy="97.3" r="2.75" fill="none" stroke="#151515" stroke-width="1.35"/>
<circle cx="554.4" cy="120.9" r="2.75" fill="none" stroke="#151515" stroke-width="1.35"/>
<circle cx="612.6" cy="42.2" r="2.6" fill="none" stroke="#b3282d" stroke-width="1.3"/>
<circle cx="612.6" cy="50.1" r="2.6" fill="none" stroke="#b3282d" stroke-width="1.3"/>
<circle cx="612.6" cy="65.6" r="2.6" fill="none" stroke="#b3282d" stroke-width="1.3"/>
<circle cx="601.3" cy="85.5" r="2.6" fill="none" stroke="#b3282d" stroke-width="1.3"/>
<circle cx="623.6" cy="81.7" r="2.6" fill="none" stroke="#b3282d" stroke-width="1.3"/>
<polyline points="553.7,89.4 553.7,26.1 615.2,26.1 615.2,34" fill="none" stroke="#151515" stroke-width="1.3" stroke-linejoin="miter"/>
<path d="M580.62,16.68L580.62,14.12M580.62,16.68L583.05,15.89M580.62,16.68L582.12,18.74M580.62,16.68L579.13,18.74M580.62,16.68L578.2,15.89" stroke="#151515" stroke-width="1.25" stroke-linecap="round" fill="none"/>
<path d="M588.08,16.68L588.08,14.12M588.08,16.68L590.5,15.89M588.08,16.68L589.57,18.74M588.08,16.68L586.58,18.74M588.08,16.68L585.65,15.89" stroke="#151515" stroke-width="1.25" stroke-linecap="round" fill="none"/>
<text x="476" y="74" font-size="11.05" text-anchor="middle" transform="rotate(-90 476 74)">ABR threshold (dB&#160;&#160;SPL)</text>
<text x="459.5" y="164" font-size="11.05">Click</text>
<text x="560.4" y="159.5" font-size="10.3" font-style="italic" text-anchor="end" transform="rotate(-26 560.4 159.5)">Gprasp2<tspan font-size="5.56" dy="-3.19">+/y</tspan></text>
<text x="622.8" y="160.4" font-size="10.3" font-style="italic" text-anchor="end" transform="rotate(-26 622.8 160.4)">Gprasp2<tspan font-size="5.56" dy="-3.19">-/y</tspan></text>
<text x="11.5" y="191.9" font-size="19.3">B</text>
<text x="6.3" y="237" font-size="11.05">dB SPL</text>
<text x="43.6" y="271.6" font-size="11.05" text-anchor="end">130</text>
<text x="43.6" y="291.9" font-size="11.05" text-anchor="end">120</text>
<text x="43.6" y="310.6" font-size="11.05" text-anchor="end">110</text>
<text x="43.6" y="327.9" font-size="11.05" text-anchor="end">100</text>
<rect x="46.4" y="193.6" width="183.1" height="157.7" fill="none" stroke="#8a8a8a" stroke-width="1"/>
<rect x="241.3" y="193.1" width="177.6" height="158.2" fill="none" stroke="#8a8a8a" stroke-width="1"/>
<text x="53.9" y="210.5" font-size="11.05" font-style="italic">Gprasp2<tspan font-size="5.97" dy="-3.43">+/y</tspan></text>
<text x="245" y="210.5" font-size="11.05" font-style="italic">Gprasp2<tspan font-size="5.97" dy="-3.43">-/y</tspan></text>
<text x="227.8" y="347" font-size="11.05" text-anchor="end">16kHz</text>
<text x="416" y="347" font-size="11.05" text-anchor="end">16kHz</text>
<text x="431.9" y="186.4" font-size="19.3">C</text>
<text x="483.3" y="196.6" font-size="11.05">One month old</text>
<text x="438.6" y="269" font-size="11.05" text-anchor="middle" transform="rotate(-90 438.6 269)">ABR threshold (dB&#160;&#160;SPL)</text>
<line x1="474.2" y1="201.2" x2="474.2" y2="250.4" stroke="#4a4a4a" stroke-width="1"/>
<line x1="471.2" y1="201.2" x2="474.2" y2="201.2" stroke="#4a4a4a" stroke-width="1"/>
<text x="468.6" y="204" font-size="11.05" text-anchor="end">120</text>
<line x1="471.2" y1="217.6" x2="474.2" y2="217.6" stroke="#4a4a4a" stroke-width="1"/>
<text x="468.6" y="221.7" font-size="11.05" text-anchor="end">90</text>
<line x1="471.2" y1="233.9" x2="474.2" y2="233.9" stroke="#4a4a4a" stroke-width="1"/>
<text x="468.6" y="238.6" font-size="11.05" text-anchor="end">60</text>
<line x1="471.2" y1="250.4" x2="474.2" y2="250.4" stroke="#4a4a4a" stroke-width="1"/>
<text x="468.6" y="255" font-size="11.05" text-anchor="end">30</text>
<line x1="474.2" y1="250.5" x2="607.7" y2="250.5" stroke="#4a4a4a" stroke-width="1"/>
<line x1="485.7" y1="250.5" x2="485.7" y2="253" stroke="#4a4a4a" stroke-width="1"/>
<line x1="507.9" y1="250.5" x2="507.9" y2="253" stroke="#4a4a4a" stroke-width="1"/>
<line x1="530.1" y1="250.5" x2="530.1" y2="253" stroke="#4a4a4a" stroke-width="1"/>
<line x1="552.4" y1="250.5" x2="552.4" y2="253" stroke="#4a4a4a" stroke-width="1"/>
<line x1="574.6" y1="250.5" x2="574.6" y2="253" stroke="#4a4a4a" stroke-width="1"/>
<line x1="596.7" y1="250.5" x2="596.7" y2="253" stroke="#4a4a4a" stroke-width="1"/>
<text x="485.8" y="263.3" font-size="11.05" text-anchor="middle">2k</text>
<text x="510" y="263.3" font-size="11.05" text-anchor="middle">4k</text>
<text x="533.2" y="263.3" font-size="11.05" text-anchor="middle">8k</text>
<text x="554.6" y="263.3" font-size="11.05" text-anchor="middle">10k</text>
<text x="578.2" y="263.3" font-size="11.05" text-anchor="middle">16k</text>
<text x="601" y="263.3" font-size="11.05" text-anchor="middle">32k</text>
<text x="619.5" y="263.3" font-size="11.05">(Hz)</text>
<polyline points="485.7,244 507.9,233.6 530.1,235.7 552.4,238.3 574.6,232.3 596.7,232.3" fill="none" stroke="#151515" stroke-width="1" stroke-linejoin="miter"/>
<polyline points="485.7,217.1 507.9,211.2 530.1,213.1 552.4,211.1 574.6,210 596.7,210" fill="none" stroke="#b3282d" stroke-width="1" stroke-linejoin="miter"/>
<line x1="485.7" y1="242.3" x2="485.7" y2="245.7" stroke="#151515" stroke-width="1"/>
<line x1="483.9" y1="242.3" x2="487.5" y2="242.3" stroke="#151515" stroke-width="1"/>
<line x1="483.9" y1="245.7" x2="487.5" y2="245.7" stroke="#151515" stroke-width="1"/>
<circle cx="485.7" cy="244" r="1.9" fill="#151515" stroke="#151515" stroke-width="0"/>
<line x1="507.9" y1="231.8" x2="507.9" y2="235.4" stroke="#151515" stroke-width="1"/>
<line x1="506.1" y1="231.8" x2="509.7" y2="231.8" stroke="#151515" stroke-width="1"/>
<line x1="506.1" y1="235.4" x2="509.7" y2="235.4" stroke="#151515" stroke-width="1"/>
<circle cx="507.9" cy="233.6" r="1.9" fill="#151515" stroke="#151515" stroke-width="0"/>
<line x1="530.1" y1="233" x2="530.1" y2="238.4" stroke="#151515" stroke-width="1"/>
<line x1="528.3" y1="233" x2="531.9" y2="233" stroke="#151515" stroke-width="1"/>
<line x1="528.3" y1="238.4" x2="531.9" y2="238.4" stroke="#151515" stroke-width="1"/>
<circle cx="530.1" cy="235.7" r="1.9" fill="#151515" stroke="#151515" stroke-width="0"/>
<line x1="552.4" y1="235.8" x2="552.4" y2="240.8" stroke="#151515" stroke-width="1"/>
<line x1="550.6" y1="235.8" x2="554.2" y2="235.8" stroke="#151515" stroke-width="1"/>
<line x1="550.6" y1="240.8" x2="554.2" y2="240.8" stroke="#151515" stroke-width="1"/>
<circle cx="552.4" cy="238.3" r="1.9" fill="#151515" stroke="#151515" stroke-width="0"/>
<circle cx="574.6" cy="232.3" r="1.9" fill="#151515" stroke="#151515" stroke-width="0"/>
<circle cx="596.7" cy="232.3" r="1.9" fill="#151515" stroke="#151515" stroke-width="0"/>
<line x1="485.7" y1="213.3" x2="485.7" y2="221.2" stroke="#b3282d" stroke-width="1"/>
<line x1="483.9" y1="213.3" x2="487.5" y2="213.3" stroke="#b3282d" stroke-width="1"/>
<line x1="483.9" y1="221.2" x2="487.5" y2="221.2" stroke="#b3282d" stroke-width="1"/>
<circle cx="485.7" cy="217.1" r="1.9" fill="#b3282d" stroke="#b3282d" stroke-width="0"/>
<line x1="507.9" y1="207" x2="507.9" y2="215.5" stroke="#b3282d" stroke-width="1"/>
<line x1="506.1" y1="207" x2="509.7" y2="207" stroke="#b3282d" stroke-width="1"/>
<line x1="506.1" y1="215.5" x2="509.7" y2="215.5" stroke="#b3282d" stroke-width="1"/>
<circle cx="507.9" cy="211.2" r="1.9" fill="#b3282d" stroke="#b3282d" stroke-width="0"/>
<line x1="530.1" y1="208.5" x2="530.1" y2="217.8" stroke="#b3282d" stroke-width="1"/>
<line x1="528.3" y1="208.5" x2="531.9" y2="208.5" stroke="#b3282d" stroke-width="1"/>
<line x1="528.3" y1="217.8" x2="531.9" y2="217.8" stroke="#b3282d" stroke-width="1"/>
<circle cx="530.1" cy="213.1" r="1.9" fill="#b3282d" stroke="#b3282d" stroke-width="0"/>
<line x1="552.4" y1="206.5" x2="552.4" y2="216" stroke="#b3282d" stroke-width="1"/>
<line x1="550.6" y1="206.5" x2="554.2" y2="206.5" stroke="#b3282d" stroke-width="1"/>
<line x1="550.6" y1="216" x2="554.2" y2="216" stroke="#b3282d" stroke-width="1"/>
<circle cx="552.4" cy="211.1" r="1.9" fill="#b3282d" stroke="#b3282d" stroke-width="0"/>
<line x1="574.6" y1="206" x2="574.6" y2="214.2" stroke="#b3282d" stroke-width="1"/>
<line x1="572.8" y1="206" x2="576.4" y2="206" stroke="#b3282d" stroke-width="1"/>
<line x1="572.8" y1="214.2" x2="576.4" y2="214.2" stroke="#b3282d" stroke-width="1"/>
<circle cx="574.6" cy="210" r="1.9" fill="#b3282d" stroke="#b3282d" stroke-width="0"/>
<line x1="596.7" y1="205.5" x2="596.7" y2="214.5" stroke="#b3282d" stroke-width="1"/>
<line x1="594.9" y1="205.5" x2="598.5" y2="205.5" stroke="#b3282d" stroke-width="1"/>
<line x1="594.9" y1="214.5" x2="598.5" y2="214.5" stroke="#b3282d" stroke-width="1"/>
<circle cx="596.7" cy="210" r="1.9" fill="#b3282d" stroke="#b3282d" stroke-width="0"/>
<path d="M482.05,201.18L482.05,198.62M482.05,201.18L484.48,200.39M482.05,201.18L483.55,203.24M482.05,201.18L480.55,203.24M482.05,201.18L479.62,200.39" stroke="#151515" stroke-width="1.25" stroke-linecap="round" fill="none"/>
<path d="M489.5,201.18L489.5,198.62M489.5,201.18L491.93,200.39M489.5,201.18L491,203.24M489.5,201.18L488,203.24M489.5,201.18L487.07,200.39" stroke="#151515" stroke-width="1.25" stroke-linecap="round" fill="none"/>
<path d="M496.95,201.18L496.95,198.62M496.95,201.18L499.38,200.39M496.95,201.18L498.45,203.24M496.95,201.18L495.45,203.24M496.95,201.18L494.52,200.39" stroke="#151515" stroke-width="1.25" stroke-linecap="round" fill="none"/>
<path d="M503.77,205.48L503.77,202.93M503.77,205.48L506.2,204.69M503.77,205.48L505.27,207.54M503.77,205.48L502.28,207.54M503.77,205.48L501.35,204.69" stroke="#151515" stroke-width="1.25" stroke-linecap="round" fill="none"/>
<path d="M511.23,205.48L511.23,202.93M511.23,205.48L513.65,204.69M511.23,205.48L512.72,207.54M511.23,205.48L509.73,207.54M511.23,205.48L508.8,204.69" stroke="#151515" stroke-width="1.25" stroke-linecap="round" fill="none"/>
<path d="M527.27,205.98L527.27,203.43M527.27,205.98L529.7,205.19M527.27,205.98L528.77,208.04M527.27,205.98L525.78,208.04M527.27,205.98L524.85,205.19" stroke="#151515" stroke-width="1.25" stroke-linecap="round" fill="none"/>
<path d="M534.73,205.98L534.73,203.43M534.73,205.98L537.15,205.19M534.73,205.98L536.22,208.04M534.73,205.98L533.23,208.04M534.73,205.98L532.3,205.19" stroke="#151515" stroke-width="1.25" stroke-linecap="round" fill="none"/>
<path d="M548.48,205.18L548.48,202.62M548.48,205.18L550.9,204.39M548.48,205.18L549.97,207.24M548.48,205.18L546.98,207.24M548.48,205.18L546.05,204.39" stroke="#151515" stroke-width="1.25" stroke-linecap="round" fill="none"/>
<path d="M555.93,205.18L555.93,202.62M555.93,205.18L558.35,204.39M555.93,205.18L557.42,207.24M555.93,205.18L554.43,207.24M555.93,205.18L553.5,204.39" stroke="#151515" stroke-width="1.25" stroke-linecap="round" fill="none"/>
<path d="M566.55,202.88L566.55,200.32M566.55,202.88L568.98,202.09M566.55,202.88L568.05,204.94M566.55,202.88L565.05,204.94M566.55,202.88L564.12,202.09" stroke="#151515" stroke-width="1.25" stroke-linecap="round" fill="none"/>
<path d="M574,202.88L574,200.32M574,202.88L576.43,202.09M574,202.88L575.5,204.94M574,202.88L572.5,204.94M574,202.88L571.57,202.09" stroke="#151515" stroke-width="1.25" stroke-linecap="round" fill="none"/>
<path d="M581.45,202.88L581.45,200.32M581.45,202.88L583.88,202.09M581.45,202.88L582.95,204.94M581.45,202.88L579.95,204.94M581.45,202.88L579.02,202.09" stroke="#151515" stroke-width="1.25" stroke-linecap="round" fill="none"/>
<path d="M590.65,198.48L590.65,195.93M590.65,198.48L593.08,197.69M590.65,198.48L592.15,200.54M590.65,198.48L589.15,200.54M590.65,198.48L588.22,197.69" stroke="#151515" stroke-width="1.25" stroke-linecap="round" fill="none"/>
<path d="M598.1,198.48L598.1,195.93M598.1,198.48L600.53,197.69M598.1,198.48L599.6,200.54M598.1,198.48L596.6,200.54M598.1,198.48L595.67,197.69" stroke="#151515" stroke-width="1.25" stroke-linecap="round" fill="none"/>
<path d="M605.55,198.48L605.55,195.93M605.55,198.48L607.98,197.69M605.55,198.48L607.05,200.54M605.55,198.48L604.05,200.54M605.55,198.48L603.12,197.69" stroke="#151515" stroke-width="1.25" stroke-linecap="round" fill="none"/>
<line x1="614.5" y1="201" x2="626.7" y2="201" stroke="#151515" stroke-width="1"/>
<circle cx="620.6" cy="201" r="1.9" fill="#151515" stroke="#151515" stroke-width="0"/>
<text x="630.4" y="204.3" font-size="11.05" font-style="italic">Gprasp2<tspan font-size="5.97" dy="-3.43">+/y</tspan></text>
<line x1="614.5" y1="211.3" x2="626.7" y2="211.3" stroke="#b3282d" stroke-width="1"/>
<circle cx="620.6" cy="211.3" r="1.9" fill="#b3282d" stroke="#b3282d" stroke-width="0"/>
<text x="630.4" y="214.5" font-size="11.05" font-style="italic">Gprasp2<tspan font-size="5.97" dy="-3.43">-/y</tspan></text>
<text x="483.6" y="286.1" font-size="11.05">Six month old</text>
<line x1="476.2" y1="293.2" x2="476.2" y2="342" stroke="#4a4a4a" stroke-width="1"/>
<line x1="473.2" y1="293.2" x2="476.2" y2="293.2" stroke="#4a4a4a" stroke-width="1"/>
<text x="466.6" y="297" font-size="11.05" text-anchor="end">120</text>
<line x1="473.2" y1="309.5" x2="476.2" y2="309.5" stroke="#4a4a4a" stroke-width="1"/>
<text x="466.6" y="313.3" font-size="11.05" text-anchor="end">90</text>
<line x1="473.2" y1="326" x2="476.2" y2="326" stroke="#4a4a4a" stroke-width="1"/>
<text x="466.6" y="329.8" font-size="11.05" text-anchor="end">60</text>
<line x1="473.2" y1="342" x2="476.2" y2="342" stroke="#4a4a4a" stroke-width="1"/>
<text x="466.6" y="345.8" font-size="11.05" text-anchor="end">30</text>
<line x1="475.2" y1="341.8" x2="604.9" y2="341.8" stroke="#4a4a4a" stroke-width="1"/>
<line x1="486.8" y1="341.8" x2="486.8" y2="344.2" stroke="#4a4a4a" stroke-width="1"/>
<line x1="507.9" y1="341.8" x2="507.9" y2="344.2" stroke="#4a4a4a" stroke-width="1"/>
<line x1="529.4" y1="341.8" x2="529.4" y2="344.2" stroke="#4a4a4a" stroke-width="1"/>
<line x1="550.9" y1="341.8" x2="550.9" y2="344.2" stroke="#4a4a4a" stroke-width="1"/>
<line x1="572.5" y1="341.8" x2="572.5" y2="344.2" stroke="#4a4a4a" stroke-width="1"/>
<line x1="593.5" y1="341.8" x2="593.5" y2="344.2" stroke="#4a4a4a" stroke-width="1"/>
<text x="482.2" y="358.6" font-size="11.05" text-anchor="middle">2k</text>
<text x="505.4" y="358.6" font-size="11.05" text-anchor="middle">4k</text>
<text x="529.7" y="358.6" font-size="11.05" text-anchor="middle">8k</text>
<text x="551.2" y="358.6" font-size="11.05" text-anchor="middle">10k</text>
<text x="572.9" y="358.6" font-size="11.05" text-anchor="middle">16k</text>
<text x="594.8" y="358.6" font-size="11.05" text-anchor="middle">32k</text>
<text x="615" y="358.6" font-size="11.05">(Hz)</text>
<polyline points="486.8,329.2 507.9,322.6 529.4,323.1 550.9,328.2 572.5,320 593.5,320" fill="none" stroke="#151515" stroke-width="1" stroke-linejoin="miter"/>
<polyline points="486.8,303.8 507.9,303.6 529.4,303.6 550.9,304.8 572.5,303.2 593.5,302" fill="none" stroke="#b3282d" stroke-width="1" stroke-linejoin="miter"/>
<line x1="486.8" y1="326.8" x2="486.8" y2="331.6" stroke="#151515" stroke-width="1"/>
<line x1="485" y1="326.8" x2="488.6" y2="326.8" stroke="#151515" stroke-width="1"/>
<line x1="485" y1="331.6" x2="488.6" y2="331.6" stroke="#151515" stroke-width="1"/>
<circle cx="486.8" cy="329.2" r="1.9" fill="#151515" stroke="#151515" stroke-width="0"/>
<line x1="507.9" y1="320.3" x2="507.9" y2="325" stroke="#151515" stroke-width="1"/>
<line x1="506.1" y1="320.3" x2="509.7" y2="320.3" stroke="#151515" stroke-width="1"/>
<line x1="506.1" y1="325" x2="509.7" y2="325" stroke="#151515" stroke-width="1"/>
<circle cx="507.9" cy="322.6" r="1.9" fill="#151515" stroke="#151515" stroke-width="0"/>
<line x1="529.4" y1="320.5" x2="529.4" y2="325.8" stroke="#151515" stroke-width="1"/>
<line x1="527.6" y1="320.5" x2="531.2" y2="320.5" stroke="#151515" stroke-width="1"/>
<line x1="527.6" y1="325.8" x2="531.2" y2="325.8" stroke="#151515" stroke-width="1"/>
<circle cx="529.4" cy="323.1" r="1.9" fill="#151515" stroke="#151515" stroke-width="0"/>
<circle cx="550.9" cy="328.2" r="1.9" fill="#151515" stroke="#151515" stroke-width="0"/>
<circle cx="572.5" cy="320" r="1.9" fill="#151515" stroke="#151515" stroke-width="0"/>
<circle cx="593.5" cy="320" r="1.9" fill="#151515" stroke="#151515" stroke-width="0"/>
<line x1="486.8" y1="298.2" x2="486.8" y2="309.3" stroke="#b3282d" stroke-width="1"/>
<line x1="485" y1="298.2" x2="488.6" y2="298.2" stroke="#b3282d" stroke-width="1"/>
<line x1="485" y1="309.3" x2="488.6" y2="309.3" stroke="#b3282d" stroke-width="1"/>
<circle cx="486.8" cy="303.8" r="1.9" fill="#b3282d" stroke="#b3282d" stroke-width="0"/>
<line x1="507.9" y1="298" x2="507.9" y2="309.2" stroke="#b3282d" stroke-width="1"/>
<line x1="506.1" y1="298" x2="509.7" y2="298" stroke="#b3282d" stroke-width="1"/>
<line x1="506.1" y1="309.2" x2="509.7" y2="309.2" stroke="#b3282d" stroke-width="1"/>
<circle cx="507.9" cy="303.6" r="1.9" fill="#b3282d" stroke="#b3282d" stroke-width="0"/>
<line x1="529.4" y1="298.2" x2="529.4" y2="309" stroke="#b3282d" stroke-width="1"/>
<line x1="527.6" y1="298.2" x2="531.2" y2="298.2" stroke="#b3282d" stroke-width="1"/>
<line x1="527.6" y1="309" x2="531.2" y2="309" stroke="#b3282d" stroke-width="1"/>
<circle cx="529.4" cy="303.6" r="1.9" fill="#b3282d" stroke="#b3282d" stroke-width="0"/>
<line x1="550.9" y1="299.5" x2="550.9" y2="310.2" stroke="#b3282d" stroke-width="1"/>
<line x1="549.1" y1="299.5" x2="552.7" y2="299.5" stroke="#b3282d" stroke-width="1"/>
<line x1="549.1" y1="310.2" x2="552.7" y2="310.2" stroke="#b3282d" stroke-width="1"/>
<circle cx="550.9" cy="304.8" r="1.9" fill="#b3282d" stroke="#b3282d" stroke-width="0"/>
<line x1="572.5" y1="298" x2="572.5" y2="308.7" stroke="#b3282d" stroke-width="1"/>
<line x1="570.7" y1="298" x2="574.3" y2="298" stroke="#b3282d" stroke-width="1"/>
<line x1="570.7" y1="308.7" x2="574.3" y2="308.7" stroke="#b3282d" stroke-width="1"/>
<circle cx="572.5" cy="303.2" r="1.9" fill="#b3282d" stroke="#b3282d" stroke-width="0"/>
<line x1="593.5" y1="297" x2="593.5" y2="306.7" stroke="#b3282d" stroke-width="1"/>
<line x1="591.7" y1="297" x2="595.3" y2="297" stroke="#b3282d" stroke-width="1"/>
<line x1="591.7" y1="306.7" x2="595.3" y2="306.7" stroke="#b3282d" stroke-width="1"/>
<circle cx="593.5" cy="302" r="1.9" fill="#b3282d" stroke="#b3282d" stroke-width="0"/>
<path d="M480.35,292.28L480.35,289.73M480.35,292.28L482.78,291.49M480.35,292.28L481.85,294.34M480.35,292.28L478.85,294.34M480.35,292.28L477.92,291.49" stroke="#151515" stroke-width="1.25" stroke-linecap="round" fill="none"/>
<path d="M487.8,292.28L487.8,289.73M487.8,292.28L490.23,291.49M487.8,292.28L489.3,294.34M487.8,292.28L486.3,294.34M487.8,292.28L485.37,291.49" stroke="#151515" stroke-width="1.25" stroke-linecap="round" fill="none"/>
<path d="M495.25,292.28L495.25,289.73M495.25,292.28L497.68,291.49M495.25,292.28L496.75,294.34M495.25,292.28L493.75,294.34M495.25,292.28L492.82,291.49" stroke="#151515" stroke-width="1.25" stroke-linecap="round" fill="none"/>
<path d="M503.27,295.38L503.27,292.82M503.27,295.38L505.7,294.59M503.27,295.38L504.77,297.44M503.27,295.38L501.78,297.44M503.27,295.38L500.85,294.59" stroke="#151515" stroke-width="1.25" stroke-linecap="round" fill="none"/>
<path d="M510.73,295.38L510.73,292.82M510.73,295.38L513.15,294.59M510.73,295.38L512.22,297.44M510.73,295.38L509.23,297.44M510.73,295.38L508.3,294.59" stroke="#151515" stroke-width="1.25" stroke-linecap="round" fill="none"/>
<path d="M525.48,297.88L525.48,295.32M525.48,297.88L527.9,297.09M525.48,297.88L526.97,299.94M525.48,297.88L523.98,299.94M525.48,297.88L523.05,297.09" stroke="#151515" stroke-width="1.25" stroke-linecap="round" fill="none"/>
<path d="M532.93,297.88L532.93,295.32M532.93,297.88L535.35,297.09M532.93,297.88L534.42,299.94M532.93,297.88L531.43,299.94M532.93,297.88L530.5,297.09" stroke="#151515" stroke-width="1.25" stroke-linecap="round" fill="none"/>
<path d="M546.27,297.38L546.27,294.82M546.27,297.38L548.7,296.59M546.27,297.38L547.77,299.44M546.27,297.38L544.78,299.44M546.27,297.38L543.85,296.59" stroke="#151515" stroke-width="1.25" stroke-linecap="round" fill="none"/>
<path d="M553.73,297.38L553.73,294.82M553.73,297.38L556.15,296.59M553.73,297.38L555.22,299.44M553.73,297.38L552.23,299.44M553.73,297.38L551.3,296.59" stroke="#151515" stroke-width="1.25" stroke-linecap="round" fill="none"/>
<path d="M568.67,295.38L568.67,292.82M568.67,295.38L571.1,294.59M568.67,295.38L570.17,297.44M568.67,295.38L567.18,297.44M568.67,295.38L566.25,294.59" stroke="#151515" stroke-width="1.25" stroke-linecap="round" fill="none"/>
<path d="M576.12,295.38L576.12,292.82M576.12,295.38L578.55,294.59M576.12,295.38L577.62,297.44M576.12,295.38L574.63,297.44M576.12,295.38L573.7,294.59" stroke="#151515" stroke-width="1.25" stroke-linecap="round" fill="none"/>
<path d="M589.98,292.28L589.98,289.73M589.98,292.28L592.4,291.49M589.98,292.28L591.47,294.34M589.98,292.28L588.48,294.34M589.98,292.28L587.55,291.49" stroke="#151515" stroke-width="1.25" stroke-linecap="round" fill="none"/>
<path d="M597.43,292.28L597.43,289.73M597.43,292.28L599.85,291.49M597.43,292.28L598.92,294.34M597.43,292.28L595.93,294.34M597.43,292.28L595,291.49" stroke="#151515" stroke-width="1.25" stroke-linecap="round" fill="none"/>
<line x1="614.5" y1="291" x2="624" y2="291" stroke="#151515" stroke-width="1"/>
<circle cx="620" cy="291" r="1.9" fill="#151515" stroke="#151515" stroke-width="0"/>
<text x="627.8" y="294" font-size="11.05" font-style="italic">Gprasp2<tspan font-size="5.97" dy="-3.43">+/y</tspan></text>
<line x1="614.5" y1="301.2" x2="624" y2="301.2" stroke="#b3282d" stroke-width="1"/>
<circle cx="620" cy="301.2" r="1.9" fill="#b3282d" stroke="#b3282d" stroke-width="0"/>
<text x="627.8" y="304.6" font-size="11.05" font-style="italic">Gprasp2<tspan font-size="5.97" dy="-3.43">-/y</tspan></text>
<text x="516" y="373.7" font-size="11.05">Y-maze test</text>
<text x="7.6" y="383.6" font-size="19.3">D</text>
<text x="146.5" y="383.6" font-size="11.05">Sound Pressure Level of Noise</text>
<line x1="46.6" y1="409.4" x2="46.6" y2="511.3" stroke="#151515" stroke-width="1.6"/>
<line x1="42.6" y1="409.4" x2="46.6" y2="409.4" stroke="#151515" stroke-width="1.6"/>
<text x="40.6" y="414.3" font-size="11.05" text-anchor="end">500</text>
<line x1="42.6" y1="429.78" x2="46.6" y2="429.78" stroke="#151515" stroke-width="1.6"/>
<text x="40.6" y="434.68" font-size="11.05" text-anchor="end">400</text>
<line x1="42.6" y1="450.16" x2="46.6" y2="450.16" stroke="#151515" stroke-width="1.6"/>
<text x="40.6" y="455.06" font-size="11.05" text-anchor="end">300</text>
<line x1="42.6" y1="470.54" x2="46.6" y2="470.54" stroke="#151515" stroke-width="1.6"/>
<text x="40.6" y="475.44" font-size="11.05" text-anchor="end">200</text>
<line x1="42.6" y1="490.92" x2="46.6" y2="490.92" stroke="#151515" stroke-width="1.6"/>
<text x="40.6" y="495.82" font-size="11.05" text-anchor="end">100</text>
<line x1="42.6" y1="511.3" x2="46.6" y2="511.3" stroke="#151515" stroke-width="1.6"/>
<text x="40.6" y="516.2" font-size="11.05" text-anchor="end">0</text>
<line x1="46.6" y1="511.3" x2="198.7" y2="511.3" stroke="#151515" stroke-width="1.6"/>
<line x1="65.5" y1="511.3" x2="65.5" y2="514.3" stroke="#151515" stroke-width="1.3"/>
<line x1="104.1" y1="511.3" x2="104.1" y2="514.3" stroke="#151515" stroke-width="1.3"/>
<line x1="142.7" y1="511.3" x2="142.7" y2="514.3" stroke="#151515" stroke-width="1.3"/>
<line x1="180.9" y1="511.3" x2="180.9" y2="514.3" stroke="#151515" stroke-width="1.3"/>
<text x="65.5" y="526.7" font-size="11.05" text-anchor="middle">20</text>
<text x="104" y="526.7" font-size="11.05" text-anchor="middle">40</text>
<text x="141.4" y="526.7" font-size="11.05" text-anchor="middle">60</text>
<text x="179.9" y="526.7" font-size="11.05" text-anchor="middle">80</text>
<text x="192.6" y="526.7" font-size="11.05">(dB)</text>
<polyline points="65.5,423.3 104.1,435.6 142.7,463.3 180.9,461.4" fill="none" stroke="#151515" stroke-width="1.1" stroke-linejoin="miter"/>
<polyline points="65.5,458.1 104.1,459.9 142.7,472.5 180.9,468" fill="none" stroke="#b3282d" stroke-width="1.1" stroke-linejoin="miter"/>
<line x1="65.5" y1="417.2" x2="65.5" y2="429.2" stroke="#151515" stroke-width="1.1"/>
<line x1="63.5" y1="417.2" x2="67.5" y2="417.2" stroke="#151515" stroke-width="1.1"/>
<line x1="63.5" y1="429.2" x2="67.5" y2="429.2" stroke="#151515" stroke-width="1.1"/>
<circle cx="65.5" cy="423.3" r="2.5" fill="#151515" stroke="#151515" stroke-width="0"/>
<line x1="104.1" y1="429" x2="104.1" y2="442.2" stroke="#151515" stroke-width="1.1"/>
<line x1="102.1" y1="429" x2="106.1" y2="429" stroke="#151515" stroke-width="1.1"/>
<line x1="102.1" y1="442.2" x2="106.1" y2="442.2" stroke="#151515" stroke-width="1.1"/>
<circle cx="104.1" cy="435.6" r="2.5" fill="#151515" stroke="#151515" stroke-width="0"/>
<line x1="142.7" y1="454.3" x2="142.7" y2="472" stroke="#151515" stroke-width="1.1"/>
<line x1="140.7" y1="454.3" x2="144.7" y2="454.3" stroke="#151515" stroke-width="1.1"/>
<line x1="140.7" y1="472" x2="144.7" y2="472" stroke="#151515" stroke-width="1.1"/>
<circle cx="142.7" cy="463.3" r="2.5" fill="#151515" stroke="#151515" stroke-width="0"/>
<line x1="180.9" y1="451.5" x2="180.9" y2="471" stroke="#151515" stroke-width="1.1"/>
<line x1="178.9" y1="451.5" x2="182.9" y2="451.5" stroke="#151515" stroke-width="1.1"/>
<line x1="178.9" y1="471" x2="182.9" y2="471" stroke="#151515" stroke-width="1.1"/>
<circle cx="180.9" cy="461.4" r="2.5" fill="#151515" stroke="#151515" stroke-width="0"/>
<line x1="65.5" y1="452.5" x2="65.5" y2="463.8" stroke="#b3282d" stroke-width="1.1"/>
<line x1="63.5" y1="452.5" x2="67.5" y2="452.5" stroke="#b3282d" stroke-width="1.1"/>
<line x1="63.5" y1="463.8" x2="67.5" y2="463.8" stroke="#b3282d" stroke-width="1.1"/>
<rect x="63.2" y="455.8" width="4.6" height="4.6" fill="#b3282d"/>
<line x1="104.1" y1="455" x2="104.1" y2="464.8" stroke="#b3282d" stroke-width="1.1"/>
<line x1="102.1" y1="455" x2="106.1" y2="455" stroke="#b3282d" stroke-width="1.1"/>
<line x1="102.1" y1="464.8" x2="106.1" y2="464.8" stroke="#b3282d" stroke-width="1.1"/>
<rect x="101.8" y="457.6" width="4.6" height="4.6" fill="#b3282d"/>
<line x1="142.7" y1="465.6" x2="142.7" y2="479.7" stroke="#b3282d" stroke-width="1.1"/>
<line x1="140.7" y1="465.6" x2="144.7" y2="465.6" stroke="#b3282d" stroke-width="1.1"/>
<line x1="140.7" y1="479.7" x2="144.7" y2="479.7" stroke="#b3282d" stroke-width="1.1"/>
<rect x="140.4" y="470.2" width="4.6" height="4.6" fill="#b3282d"/>
<line x1="180.9" y1="464.6" x2="180.9" y2="472.2" stroke="#b3282d" stroke-width="1.1"/>
<line x1="178.9" y1="464.6" x2="182.9" y2="464.6" stroke="#b3282d" stroke-width="1.1"/>
<line x1="178.9" y1="472.2" x2="182.9" y2="472.2" stroke="#b3282d" stroke-width="1.1"/>
<rect x="178.6" y="465.7" width="4.6" height="4.6" fill="#b3282d"/>
<path d="M63.52,447.78L63.52,445.23M63.52,447.78L65.95,446.99M63.52,447.78L65.02,449.84M63.52,447.78L62.03,449.84M63.52,447.78L61.1,446.99" stroke="#151515" stroke-width="1.25" stroke-linecap="round" fill="none"/>
<path d="M70.97,447.78L70.97,445.23M70.97,447.78L73.4,446.99M70.97,447.78L72.47,449.84M70.97,447.78L69.48,449.84M70.97,447.78L68.55,446.99" stroke="#151515" stroke-width="1.25" stroke-linecap="round" fill="none"/>
<path d="M100.78,452.57L100.78,450.02M100.78,452.57L103.2,451.79M100.78,452.57L102.27,454.64M100.78,452.57L99.28,454.64M100.78,452.57L98.35,451.79" stroke="#151515" stroke-width="1.25" stroke-linecap="round" fill="none"/>
<path d="M108.22,452.57L108.22,450.02M108.22,452.57L110.65,451.79M108.22,452.57L109.72,454.64M108.22,452.57L106.73,454.64M108.22,452.57L105.8,451.79" stroke="#151515" stroke-width="1.25" stroke-linecap="round" fill="none"/>
<line x1="61.5" y1="405.1" x2="72.3" y2="405.1" stroke="#151515" stroke-width="1.1"/>
<circle cx="66.6" cy="405.1" r="2.2" fill="#151515" stroke="#151515" stroke-width="0"/>
<text x="78.2" y="408.4" font-size="11.05" font-style="italic">Gprasp2<tspan font-size="5.97" dy="-3.43">+/y</tspan></text>
<line x1="128.2" y1="405" x2="137.6" y2="405" stroke="#b3282d" stroke-width="1.1"/>
<rect x="130.9" y="403" width="4" height="4" fill="#b3282d"/>
<text x="143.8" y="408.4" font-size="11.05" font-style="italic">Gprasp2<tspan font-size="5.97" dy="-3.43">-/y</tspan></text>
<text x="12.3" y="460.5" font-size="11.05" text-anchor="middle" transform="rotate(-90 12.3 460.5)">Distance of Movement (cm)</text>
<line x1="239.2" y1="402.2" x2="239.2" y2="508.1" stroke="#151515" stroke-width="1.6"/>
<line x1="235.2" y1="402.2" x2="239.2" y2="402.2" stroke="#151515" stroke-width="1.6"/>
<text x="233.7" y="406.8" font-size="11.05" text-anchor="end">80</text>
<line x1="235.2" y1="428.68" x2="239.2" y2="428.68" stroke="#151515" stroke-width="1.6"/>
<text x="233.7" y="433.28" font-size="11.05" text-anchor="end">60</text>
<line x1="235.2" y1="455.15" x2="239.2" y2="455.15" stroke="#151515" stroke-width="1.6"/>
<text x="233.7" y="459.75" font-size="11.05" text-anchor="end">40</text>
<line x1="235.2" y1="481.62" x2="239.2" y2="481.62" stroke="#151515" stroke-width="1.6"/>
<text x="233.7" y="486.23" font-size="11.05" text-anchor="end">20</text>
<line x1="235.2" y1="508.1" x2="239.2" y2="508.1" stroke="#151515" stroke-width="1.6"/>
<text x="233.7" y="512.7" font-size="11.05" text-anchor="end">0</text>
<line x1="239.2" y1="508.1" x2="398.2" y2="508.1" stroke="#151515" stroke-width="1.6"/>
<line x1="259.5" y1="508.1" x2="259.5" y2="511.1" stroke="#151515" stroke-width="1.3"/>
<line x1="299" y1="508.1" x2="299" y2="511.1" stroke="#151515" stroke-width="1.3"/>
<line x1="338.6" y1="508.1" x2="338.6" y2="511.1" stroke="#151515" stroke-width="1.3"/>
<line x1="378" y1="508.1" x2="378" y2="511.1" stroke="#151515" stroke-width="1.3"/>
<text x="256.2" y="525" font-size="11.05" text-anchor="middle">20</text>
<text x="298.5" y="525" font-size="11.05" text-anchor="middle">40</text>
<text x="337.6" y="525" font-size="11.05" text-anchor="middle">60</text>
<text x="377.1" y="525" font-size="11.05" text-anchor="middle">80</text>
<text x="389.4" y="525" font-size="11.05">(dB)</text>
<polyline points="259.5,431.7 299,441.7 338.6,464.6 378,465.6" fill="none" stroke="#151515" stroke-width="1.1" stroke-linejoin="miter"/>
<polyline points="259.5,467.1 299,469.3 338.6,477.8 378,475.5" fill="none" stroke="#b3282d" stroke-width="1.1" stroke-linejoin="miter"/>
<line x1="259.5" y1="422.3" x2="259.5" y2="440.6" stroke="#151515" stroke-width="1.1"/>
<line x1="257.5" y1="422.3" x2="261.5" y2="422.3" stroke="#151515" stroke-width="1.1"/>
<line x1="257.5" y1="440.6" x2="261.5" y2="440.6" stroke="#151515" stroke-width="1.1"/>
<circle cx="259.5" cy="431.7" r="2.5" fill="#151515" stroke="#151515" stroke-width="0"/>
<line x1="299" y1="432.7" x2="299" y2="451.1" stroke="#151515" stroke-width="1.1"/>
<line x1="297" y1="432.7" x2="301" y2="432.7" stroke="#151515" stroke-width="1.1"/>
<line x1="297" y1="451.1" x2="301" y2="451.1" stroke="#151515" stroke-width="1.1"/>
<circle cx="299" cy="441.7" r="2.5" fill="#151515" stroke="#151515" stroke-width="0"/>
<line x1="338.6" y1="453.9" x2="338.6" y2="475" stroke="#151515" stroke-width="1.1"/>
<line x1="336.6" y1="453.9" x2="340.6" y2="453.9" stroke="#151515" stroke-width="1.1"/>
<line x1="336.6" y1="475" x2="340.6" y2="475" stroke="#151515" stroke-width="1.1"/>
<circle cx="338.6" cy="464.6" r="2.5" fill="#151515" stroke="#151515" stroke-width="0"/>
<line x1="378" y1="456.7" x2="378" y2="474.5" stroke="#151515" stroke-width="1.1"/>
<line x1="376" y1="456.7" x2="380" y2="456.7" stroke="#151515" stroke-width="1.1"/>
<line x1="376" y1="474.5" x2="380" y2="474.5" stroke="#151515" stroke-width="1.1"/>
<circle cx="378" cy="465.6" r="2.5" fill="#151515" stroke="#151515" stroke-width="0"/>
<line x1="259.5" y1="460.5" x2="259.5" y2="474" stroke="#b3282d" stroke-width="1.1"/>
<line x1="257.5" y1="460.5" x2="261.5" y2="460.5" stroke="#b3282d" stroke-width="1.1"/>
<line x1="257.5" y1="474" x2="261.5" y2="474" stroke="#b3282d" stroke-width="1.1"/>
<rect x="257.2" y="464.8" width="4.6" height="4.6" fill="#b3282d"/>
<line x1="299" y1="464.8" x2="299" y2="474" stroke="#b3282d" stroke-width="1.1"/>
<line x1="297" y1="464.8" x2="301" y2="464.8" stroke="#b3282d" stroke-width="1.1"/>
<line x1="297" y1="474" x2="301" y2="474" stroke="#b3282d" stroke-width="1.1"/>
<rect x="296.7" y="467" width="4.6" height="4.6" fill="#b3282d"/>
<line x1="338.6" y1="472.2" x2="338.6" y2="484.4" stroke="#b3282d" stroke-width="1.1"/>
<line x1="336.6" y1="472.2" x2="340.6" y2="472.2" stroke="#b3282d" stroke-width="1.1"/>
<line x1="336.6" y1="484.4" x2="340.6" y2="484.4" stroke="#b3282d" stroke-width="1.1"/>
<rect x="336.3" y="475.5" width="4.6" height="4.6" fill="#b3282d"/>
<line x1="378" y1="472" x2="378" y2="479" stroke="#b3282d" stroke-width="1.1"/>
<line x1="376" y1="472" x2="380" y2="472" stroke="#b3282d" stroke-width="1.1"/>
<line x1="376" y1="479" x2="380" y2="479" stroke="#b3282d" stroke-width="1.1"/>
<rect x="375.7" y="473.2" width="4.6" height="4.6" fill="#b3282d"/>
<path d="M254.17,456.48L254.17,453.93M254.17,456.48L256.6,455.69M254.17,456.48L255.67,458.54M254.17,456.48L252.68,458.54M254.17,456.48L251.75,455.69" stroke="#151515" stroke-width="1.25" stroke-linecap="round" fill="none"/>
<path d="M261.62,456.48L261.62,453.93M261.62,456.48L264.05,455.69M261.62,456.48L263.12,458.54M261.62,456.48L260.13,458.54M261.62,456.48L259.2,455.69" stroke="#151515" stroke-width="1.25" stroke-linecap="round" fill="none"/>
<path d="M299,460.28L299,457.73M299,460.28L301.43,459.49M299,460.28L300.5,462.34M299,460.28L297.5,462.34M299,460.28L296.57,459.49" stroke="#151515" stroke-width="1.25" stroke-linecap="round" fill="none"/>
<line x1="257.7" y1="403.5" x2="269" y2="403.5" stroke="#151515" stroke-width="1.1"/>
<circle cx="263.3" cy="403.5" r="2.2" fill="#151515" stroke="#151515" stroke-width="0"/>
<text x="271" y="405.6" font-size="11.05" font-style="italic">Gprasp2<tspan font-size="5.97" dy="-3.43">+/y</tspan></text>
<line x1="322.2" y1="403.5" x2="333.9" y2="403.5" stroke="#b3282d" stroke-width="1.1"/>
<rect x="326.2" y="401.5" width="4" height="4" fill="#b3282d"/>
<text x="336" y="405.6" font-size="11.05" font-style="italic">Gprasp2<tspan font-size="5.97" dy="-3.43">-/y</tspan></text>
<text x="213.5" y="454" font-size="11.05" text-anchor="middle" transform="rotate(-90 213.5 454)">Average Speed (mm/s)</text>
<text x="404.3" y="377.5" font-size="19.3">E</text>
<line x1="435.7" y1="384.7" x2="435.7" y2="527.4" stroke="#151515" stroke-width="1.6"/>
<line x1="431.2" y1="384.7" x2="435.7" y2="384.7" stroke="#151515" stroke-width="1.6"/>
<text x="429.4" y="386.7" font-size="11.05" text-anchor="end">20</text>
<line x1="431.2" y1="420.38" x2="435.7" y2="420.38" stroke="#151515" stroke-width="1.6"/>
<text x="429.4" y="421.8" font-size="11.05" text-anchor="end">15</text>
<line x1="431.2" y1="456.05" x2="435.7" y2="456.05" stroke="#151515" stroke-width="1.6"/>
<text x="429.4" y="459.3" font-size="11.05" text-anchor="end">10</text>
<line x1="431.2" y1="491.72" x2="435.7" y2="491.72" stroke="#151515" stroke-width="1.6"/>
<text x="429.4" y="495.7" font-size="11.05" text-anchor="end">5</text>
<line x1="431.2" y1="527.4" x2="435.7" y2="527.4" stroke="#151515" stroke-width="1.6"/>
<text x="429.4" y="531.6" font-size="11.05" text-anchor="end">0</text>
<line x1="435.7" y1="527.4" x2="547.7" y2="527.4" stroke="#151515" stroke-width="1.6"/>
<line x1="470.8" y1="527.4" x2="470.8" y2="531.2" stroke="#151515" stroke-width="1.3"/>
<line x1="512.9" y1="527.4" x2="512.9" y2="531.2" stroke="#151515" stroke-width="1.3"/>
<polyline points="457.6,527.4 457.6,443.9 484.1,443.9 484.1,527.4" fill="none" stroke="#151515" stroke-width="1.5" stroke-linejoin="miter"/>
<polyline points="499.2,527.4 499.2,480.4 526.2,480.4 526.2,527.4" fill="none" stroke="#b3282d" stroke-width="1.5" stroke-linejoin="miter"/>
<line x1="470.8" y1="424.5" x2="470.8" y2="462.5" stroke="#151515" stroke-width="1.3"/>
<line x1="464" y1="424.5" x2="477.6" y2="424.5" stroke="#151515" stroke-width="1.3"/>
<line x1="464" y1="462.5" x2="477.6" y2="462.5" stroke="#151515" stroke-width="1.3"/>
<line x1="512.9" y1="470.9" x2="512.9" y2="486.5" stroke="#151515" stroke-width="1.3"/>
<line x1="506.5" y1="470.9" x2="519.3" y2="470.9" stroke="#151515" stroke-width="1.3"/>
<line x1="506.5" y1="486.5" x2="519.3" y2="486.5" stroke="#151515" stroke-width="1.3"/>
<circle cx="470.8" cy="413.7" r="2.75" fill="none" stroke="#151515" stroke-width="1.35"/>
<circle cx="470.8" cy="442" r="2.75" fill="none" stroke="#151515" stroke-width="1.35"/>
<circle cx="482.2" cy="442" r="2.75" fill="none" stroke="#151515" stroke-width="1.35"/>
<circle cx="470.8" cy="456.4" r="2.75" fill="none" stroke="#151515" stroke-width="1.35"/>
<circle cx="470.8" cy="464" r="2.75" fill="none" stroke="#151515" stroke-width="1.35"/>
<circle cx="512.9" cy="470.4" r="2.75" fill="none" stroke="#b3282d" stroke-width="1.35"/>
<circle cx="501.5" cy="477.6" r="2.75" fill="none" stroke="#b3282d" stroke-width="1.35"/>
<circle cx="512.9" cy="477.6" r="2.75" fill="none" stroke="#b3282d" stroke-width="1.35"/>
<circle cx="524.3" cy="477.6" r="2.75" fill="none" stroke="#b3282d" stroke-width="1.35"/>
<circle cx="512.9" cy="491.2" r="2.75" fill="none" stroke="#b3282d" stroke-width="1.35"/>
<polyline points="470.8,403.7 470.8,396.1 512.5,396.1 512.5,455.8" fill="none" stroke="#151515" stroke-width="1.3" stroke-linejoin="miter"/>
<path d="M486.82,382.38L486.82,379.82M486.82,382.38L489.25,381.59M486.82,382.38L488.32,384.44M486.82,382.38L485.33,384.44M486.82,382.38L484.4,381.59" stroke="#151515" stroke-width="1.25" stroke-linecap="round" fill="none"/>
<path d="M494.28,382.38L494.28,379.82M494.28,382.38L496.7,381.59M494.28,382.38L495.77,384.44M494.28,382.38L492.78,384.44M494.28,382.38L491.85,381.59" stroke="#151515" stroke-width="1.25" stroke-linecap="round" fill="none"/>
<text x="413.5" y="464.6" font-size="11.05" text-anchor="middle" transform="rotate(-90 413.5 464.6)">Entries OA (n)</text>
<text x="475.4" y="541" font-size="10.3" font-style="italic" text-anchor="end" transform="rotate(-26 475.4 541)">Gprasp2<tspan font-size="5.56" dy="-3.19">+/y</tspan></text>
<text x="518" y="541.8" font-size="10.3" font-style="italic" text-anchor="end" transform="rotate(-26 518 541.8)">Gprasp2<tspan font-size="5.56" dy="-3.19">-/y</tspan></text>
<line x1="582.8" y1="389.2" x2="582.8" y2="529.9" stroke="#151515" stroke-width="1.6"/>
<line x1="578.3" y1="389.2" x2="582.8" y2="389.2" stroke="#151515" stroke-width="1.6"/>
<text x="577.3" y="395.2" font-size="11.05" text-anchor="end">15</text>
<line x1="578.3" y1="436.1" x2="582.8" y2="436.1" stroke="#151515" stroke-width="1.6"/>
<text x="577.3" y="442.7" font-size="11.05" text-anchor="end">10</text>
<line x1="578.3" y1="483" x2="582.8" y2="483" stroke="#151515" stroke-width="1.6"/>
<text x="577.3" y="489.8" font-size="11.05" text-anchor="end">5</text>
<line x1="578.3" y1="529.9" x2="582.8" y2="529.9" stroke="#151515" stroke-width="1.6"/>
<text x="577.3" y="536.4" font-size="11.05" text-anchor="end">0</text>
<line x1="582.8" y1="529.9" x2="684" y2="529.9" stroke="#151515" stroke-width="1.6"/>
<line x1="614.9" y1="529.9" x2="614.9" y2="534.2" stroke="#151515" stroke-width="1.3"/>
<line x1="652.3" y1="529.9" x2="652.3" y2="534.2" stroke="#151515" stroke-width="1.3"/>
<polyline points="602.9,529.9 602.9,483.3 626.3,483.3 626.3,529.9" fill="none" stroke="#151515" stroke-width="1.5" stroke-linejoin="miter"/>
<polyline points="640.1,529.9 640.1,448.2 664.1,448.2 664.1,529.9" fill="none" stroke="#b3282d" stroke-width="1.5" stroke-linejoin="miter"/>
<line x1="614.9" y1="459.8" x2="614.9" y2="507.4" stroke="#151515" stroke-width="1.3"/>
<line x1="609" y1="459.8" x2="620.8" y2="459.8" stroke="#151515" stroke-width="1.3"/>
<line x1="609" y1="507.4" x2="620.8" y2="507.4" stroke="#151515" stroke-width="1.3"/>
<line x1="652.3" y1="430.1" x2="652.3" y2="464.5" stroke="#151515" stroke-width="1.3"/>
<line x1="646.2" y1="430.1" x2="658.4" y2="430.1" stroke="#151515" stroke-width="1.3"/>
<line x1="646.2" y1="464.5" x2="658.4" y2="464.5" stroke="#151515" stroke-width="1.3"/>
<circle cx="614.9" cy="455.3" r="2.75" fill="none" stroke="#151515" stroke-width="1.35"/>
<circle cx="614.9" cy="464.5" r="2.75" fill="none" stroke="#151515" stroke-width="1.35"/>
<circle cx="614.9" cy="483.3" r="2.75" fill="none" stroke="#151515" stroke-width="1.35"/>
<circle cx="614.9" cy="502.3" r="2.75" fill="none" stroke="#151515" stroke-width="1.35"/>
<circle cx="614.9" cy="511.5" r="2.75" fill="none" stroke="#151515" stroke-width="1.35"/>
<circle cx="652.3" cy="417.4" r="2.75" fill="none" stroke="#b3282d" stroke-width="1.35"/>
<circle cx="652.3" cy="436.6" r="2.75" fill="none" stroke="#b3282d" stroke-width="1.35"/>
<circle cx="643.1" cy="455.2" r="2.75" fill="none" stroke="#b3282d" stroke-width="1.35"/>
<circle cx="652.3" cy="455.2" r="2.75" fill="none" stroke="#b3282d" stroke-width="1.35"/>
<circle cx="661.5" cy="455.2" r="2.75" fill="none" stroke="#b3282d" stroke-width="1.35"/>
<circle cx="652.3" cy="464.5" r="2.75" fill="none" stroke="#b3282d" stroke-width="1.35"/>
<polyline points="614.5,443.8 614.5,402.5 652.3,402.5 652.3,410.7" fill="none" stroke="#151515" stroke-width="1.3" stroke-linejoin="miter"/>
<path d="M630.67,395.48L630.67,392.93M630.67,395.48L633.1,394.69M630.67,395.48L632.17,397.54M630.67,395.48L629.18,397.54M630.67,395.48L628.25,394.69" stroke="#151515" stroke-width="1.25" stroke-linecap="round" fill="none"/>
<path d="M638.12,395.48L638.12,392.93M638.12,395.48L640.55,394.69M638.12,395.48L639.62,397.54M638.12,395.48L636.63,397.54M638.12,395.48L635.7,394.69" stroke="#151515" stroke-width="1.25" stroke-linecap="round" fill="none"/>
<text x="561.2" y="455" font-size="11.05" text-anchor="middle" transform="rotate(-90 561.2 455)">Entries CA (n)</text>
<text x="620.7" y="544.3" font-size="10.3" font-style="italic" text-anchor="end" transform="rotate(-26 620.7 544.3)">Gprasp2<tspan font-size="5.56" dy="-3.19">+/y</tspan></text>
<text x="656.3" y="544.1" font-size="10.3" font-style="italic" text-anchor="end" transform="rotate(-26 656.3 544.1)">Gprasp2<tspan font-size="5.56" dy="-3.19">-/y</tspan></text>
<text x="2.8" y="545" font-size="19.3">F</text>
<text x="22.6" y="543.4" font-size="11.05">Rotarod test</text>
<text x="110.8" y="543.6" font-size="11.05">15 r/min</text>
<text x="251.9" y="542" font-size="11.05">30 r/min</text>
<line x1="74.6" y1="557.5" x2="74.6" y2="643.9" stroke="#151515" stroke-width="1.1"/>
<line x1="70.6" y1="557.5" x2="74.6" y2="557.5" stroke="#151515" stroke-width="1.1"/>
<text x="68.8" y="562.4" font-size="11.05" text-anchor="end">200</text>
<line x1="70.6" y1="579.1" x2="74.6" y2="579.1" stroke="#151515" stroke-width="1.1"/>
<text x="68.8" y="584" font-size="11.05" text-anchor="end">150</text>
<line x1="70.6" y1="600.7" x2="74.6" y2="600.7" stroke="#151515" stroke-width="1.1"/>
<text x="68.8" y="605.6" font-size="11.05" text-anchor="end">100</text>
<line x1="70.6" y1="622.3" x2="74.6" y2="622.3" stroke="#151515" stroke-width="1.1"/>
<text x="68.8" y="627.2" font-size="11.05" text-anchor="end">50</text>
<line x1="70.6" y1="643.9" x2="74.6" y2="643.9" stroke="#151515" stroke-width="1.1"/>
<text x="68.8" y="648.8" font-size="11.05" text-anchor="end">0</text>
<line x1="74.6" y1="643.9" x2="140.4" y2="643.9" stroke="#151515" stroke-width="1.1"/>
<line x1="93.8" y1="644.2" x2="93.8" y2="646.8" stroke="#151515" stroke-width="1.1"/>
<line x1="121.4" y1="644.2" x2="121.4" y2="646.8" stroke="#151515" stroke-width="1.1"/>
<polyline points="84.2,643.9 84.2,606.4 102.6,606.4 102.6,643.9" fill="none" stroke="#151515" stroke-width="1" stroke-linejoin="miter"/>
<polyline points="112.2,643.9 112.2,604.4 130.8,604.4 130.8,643.9" fill="none" stroke="#b3282d" stroke-width="1" stroke-linejoin="miter"/>
<line x1="93.8" y1="583.3" x2="93.8" y2="629.3" stroke="#151515" stroke-width="1"/>
<line x1="89.4" y1="583.3" x2="98.2" y2="583.3" stroke="#151515" stroke-width="1"/>
<line x1="89.4" y1="629.3" x2="98.2" y2="629.3" stroke="#151515" stroke-width="1"/>
<line x1="121.4" y1="566" x2="121.4" y2="641.6" stroke="#151515" stroke-width="1"/>
<line x1="117.4" y1="566" x2="125.4" y2="566" stroke="#151515" stroke-width="1"/>
<line x1="117.4" y1="641.6" x2="125.4" y2="641.6" stroke="#151515" stroke-width="1"/>
<circle cx="93.8" cy="566" r="1.7" fill="none" stroke="#151515" stroke-width="1"/>
<circle cx="93.8" cy="611.9" r="1.7" fill="none" stroke="#151515" stroke-width="1"/>
<circle cx="100.5" cy="610.9" r="1.7" fill="none" stroke="#151515" stroke-width="1"/>
<circle cx="93.8" cy="618.7" r="1.7" fill="none" stroke="#151515" stroke-width="1"/>
<circle cx="93.8" cy="622.8" r="1.7" fill="none" stroke="#151515" stroke-width="1"/>
<circle cx="121.4" cy="566" r="1.7" fill="none" stroke="#b3282d" stroke-width="1"/>
<circle cx="129.1" cy="566" r="1.7" fill="none" stroke="#b3282d" stroke-width="1"/>
<circle cx="121.4" cy="607.4" r="1.7" fill="none" stroke="#b3282d" stroke-width="1"/>
<circle cx="113.8" cy="640.6" r="1.7" fill="none" stroke="#b3282d" stroke-width="1"/>
<circle cx="129.1" cy="640.6" r="1.7" fill="none" stroke="#b3282d" stroke-width="1"/>
<polyline points="92.3,560.4 92.3,556.3 121.4,556.3 121.4,560.4" fill="none" stroke="#151515" stroke-width="1" stroke-linejoin="miter"/>
<text x="107.6" y="552.7" font-size="11.05" text-anchor="middle">n.s.</text>
<text x="59.8" y="656.5" font-size="11.05" font-style="italic">Gprasp2<tspan font-size="5.97" dy="-3.43">+/y</tspan></text>
<text x="114.4" y="656.5" font-size="11.05" font-style="italic">Gprasp2<tspan font-size="5.97" dy="-3.43">-/y</tspan></text>
<text x="41.5" y="611.5" font-size="11.05" text-anchor="middle" transform="rotate(-90 41.5 611.5)">Residence time(s)</text>
<line x1="211.5" y1="555.5" x2="211.5" y2="642.2" stroke="#151515" stroke-width="1.1"/>
<line x1="207.5" y1="555.5" x2="211.5" y2="555.5" stroke="#151515" stroke-width="1.1"/>
<text x="206.1" y="560.5" font-size="11.05" text-anchor="end">60</text>
<line x1="207.5" y1="584.4" x2="211.5" y2="584.4" stroke="#151515" stroke-width="1.1"/>
<text x="206.1" y="589.4" font-size="11.05" text-anchor="end">40</text>
<line x1="207.5" y1="613.3" x2="211.5" y2="613.3" stroke="#151515" stroke-width="1.1"/>
<text x="206.1" y="618.3" font-size="11.05" text-anchor="end">20</text>
<line x1="207.5" y1="642.2" x2="211.5" y2="642.2" stroke="#151515" stroke-width="1.1"/>
<text x="206.1" y="647.2" font-size="11.05" text-anchor="end">0</text>
<line x1="211.5" y1="642.2" x2="276.9" y2="642.2" stroke="#151515" stroke-width="1.1"/>
<line x1="230.1" y1="642.2" x2="230.1" y2="644.8" stroke="#151515" stroke-width="1.1"/>
<line x1="258.1" y1="642.2" x2="258.1" y2="644.8" stroke="#151515" stroke-width="1.1"/>
<polyline points="220.8,642.2 220.8,592.3 239.7,592.3 239.7,642.2" fill="none" stroke="#151515" stroke-width="1" stroke-linejoin="miter"/>
<polyline points="249.2,642.2 249.2,591.1 267.2,591.1 267.2,642.2" fill="none" stroke="#b3282d" stroke-width="1" stroke-linejoin="miter"/>
<line x1="230.1" y1="576.7" x2="230.1" y2="607.7" stroke="#151515" stroke-width="1"/>
<line x1="225.7" y1="576.7" x2="234.5" y2="576.7" stroke="#151515" stroke-width="1"/>
<line x1="225.7" y1="607.7" x2="234.5" y2="607.7" stroke="#151515" stroke-width="1"/>
<line x1="258.1" y1="577" x2="258.1" y2="604.2" stroke="#151515" stroke-width="1"/>
<line x1="253.7" y1="577" x2="262.5" y2="577" stroke="#151515" stroke-width="1"/>
<line x1="253.7" y1="604.2" x2="262.5" y2="604.2" stroke="#151515" stroke-width="1"/>
<circle cx="230.1" cy="571.4" r="1.7" fill="none" stroke="#151515" stroke-width="1"/>
<circle cx="230.1" cy="579.7" r="1.7" fill="none" stroke="#151515" stroke-width="1"/>
<circle cx="230.1" cy="600.7" r="1.7" fill="none" stroke="#151515" stroke-width="1"/>
<circle cx="222.2" cy="606" r="1.7" fill="none" stroke="#151515" stroke-width="1"/>
<circle cx="237.6" cy="603.3" r="1.7" fill="none" stroke="#151515" stroke-width="1"/>
<circle cx="258.1" cy="572.7" r="1.7" fill="none" stroke="#b3282d" stroke-width="1"/>
<circle cx="250.6" cy="586.7" r="1.7" fill="none" stroke="#b3282d" stroke-width="1"/>
<circle cx="258.1" cy="591.9" r="1.7" fill="none" stroke="#b3282d" stroke-width="1"/>
<circle cx="265.5" cy="591.1" r="1.7" fill="none" stroke="#b3282d" stroke-width="1"/>
<circle cx="258.1" cy="610.7" r="1.7" fill="none" stroke="#b3282d" stroke-width="1"/>
<polyline points="230.1,565.7 230.1,561.8 258.1,561.8 258.1,565.7" fill="none" stroke="#151515" stroke-width="1" stroke-linejoin="miter"/>
<text x="247.3" y="558.1" font-size="11.05" text-anchor="middle">n.s.</text>
<text x="192.7" y="655.9" font-size="11.05" font-style="italic">Gprasp2<tspan font-size="5.97" dy="-3.43">+/y</tspan></text>
<text x="247.6" y="655.9" font-size="11.05" font-style="italic">Gprasp2<tspan font-size="5.97" dy="-3.43">-/y</tspan></text>
<text x="189.3" y="600.7" font-size="11.05" text-anchor="middle" transform="rotate(-90 189.3 600.7)">Residence time(s)</text>
<text x="2.9" y="679.4" font-size="19.3">G</text>
<text x="23.4" y="678.4" font-size="11.05">Novelty Suppressed-feeding</text>
<line x1="38.5" y1="690.3" x2="38.5" y2="760.5" stroke="#151515" stroke-width="1.6"/>
<line x1="34.2" y1="690.3" x2="38.5" y2="690.3" stroke="#151515" stroke-width="1.6"/>
<text x="30.9" y="698.2" font-size="11.05" text-anchor="end">200</text>
<line x1="34.2" y1="725.4" x2="38.5" y2="725.4" stroke="#151515" stroke-width="1.6"/>
<line x1="34.2" y1="760.5" x2="38.5" y2="760.5" stroke="#151515" stroke-width="1.6"/>
<text x="30.9" y="746.5" font-size="11.05" text-anchor="end">100</text>
<text x="31.4" y="766.3" font-size="11.05" text-anchor="end">0</text>
<line x1="34.7" y1="760.5" x2="158.8" y2="760.5" stroke="#151515" stroke-width="1.6"/>
<line x1="98.9" y1="760.6" x2="98.9" y2="762.9" stroke="#151515" stroke-width="1.3"/>
<polyline points="61.9,760.6 61.9,749.6 90.8,749.6 90.8,760.6" fill="none" stroke="#151515" stroke-width="1.5" stroke-linejoin="miter"/>
<polyline points="107.1,760.6 107.1,733.8 136,733.8 136,760.6" fill="none" stroke="#b3282d" stroke-width="1.5" stroke-linejoin="miter"/>
<line x1="75.7" y1="749.3" x2="75.7" y2="754" stroke="#151515" stroke-width="1.3"/>
<line x1="68.3" y1="749.3" x2="83.1" y2="749.3" stroke="#151515" stroke-width="1.3"/>
<line x1="68.3" y1="754" x2="83.1" y2="754" stroke="#151515" stroke-width="1.3"/>
<line x1="121.6" y1="721.5" x2="121.6" y2="745.7" stroke="#151515" stroke-width="1.3"/>
<line x1="114.4" y1="721.5" x2="128.8" y2="721.5" stroke="#151515" stroke-width="1.3"/>
<line x1="114.4" y1="745.7" x2="128.8" y2="745.7" stroke="#151515" stroke-width="1.3"/>
<circle cx="64.2" cy="747.3" r="2.75" fill="none" stroke="#151515" stroke-width="1.35"/>
<circle cx="64.2" cy="753.9" r="2.75" fill="none" stroke="#151515" stroke-width="1.35"/>
<circle cx="72" cy="752.2" r="2.75" fill="none" stroke="#151515" stroke-width="1.35"/>
<circle cx="80.3" cy="752.2" r="2.75" fill="none" stroke="#151515" stroke-width="1.35"/>
<circle cx="88.7" cy="752.2" r="2.75" fill="none" stroke="#151515" stroke-width="1.35"/>
<circle cx="121.6" cy="716.8" r="2.75" fill="none" stroke="#b3282d" stroke-width="1.35"/>
<circle cx="121.6" cy="724.5" r="2.75" fill="none" stroke="#b3282d" stroke-width="1.35"/>
<circle cx="121.6" cy="739.9" r="2.75" fill="none" stroke="#b3282d" stroke-width="1.35"/>
<circle cx="109.7" cy="744.3" r="2.75" fill="none" stroke="#b3282d" stroke-width="1.35"/>
<circle cx="134.2" cy="742.2" r="2.75" fill="none" stroke="#b3282d" stroke-width="1.35"/>
<polyline points="72,739.9 72,698.8 121.6,698.8 121.6,706.6" fill="none" stroke="#151515" stroke-width="1.3" stroke-linejoin="miter"/>
<path d="M93.12,690.27L93.12,687.73M93.12,690.27L95.55,689.49M93.12,690.27L94.62,692.34M93.12,690.27L91.63,692.34M93.12,690.27L90.7,689.49" stroke="#151515" stroke-width="1.25" stroke-linecap="round" fill="none"/>
<path d="M100.57,690.27L100.57,687.73M100.57,690.27L103,689.49M100.57,690.27L102.07,692.34M100.57,690.27L99.08,692.34M100.57,690.27L98.15,689.49" stroke="#151515" stroke-width="1.25" stroke-linecap="round" fill="none"/>
<text x="10.5" y="730.7" font-size="11.05" text-anchor="middle" transform="rotate(-90 10.5 730.7)">Latency to eat (s)</text>
<text x="82.4" y="771.7" font-size="10.3" font-style="italic" text-anchor="end" transform="rotate(-26 82.4 771.7)">Gprasp2<tspan font-size="5.56" dy="-3.19">+/y</tspan></text>
<text x="132.3" y="772.6" font-size="10.3" font-style="italic" text-anchor="end" transform="rotate(-26 132.3 772.6)">Gprasp2<tspan font-size="5.56" dy="-3.19">-/y</tspan></text>
<line x1="201.8" y1="691.2" x2="201.8" y2="761.5" stroke="#151515" stroke-width="1.6"/>
<line x1="197.6" y1="691.2" x2="201.8" y2="691.2" stroke="#151515" stroke-width="1.6"/>
<text x="192.5" y="695.4" font-size="11.05" text-anchor="end">30</text>
<line x1="197.6" y1="714.63" x2="201.8" y2="714.63" stroke="#151515" stroke-width="1.6"/>
<text x="192.5" y="720" font-size="11.05" text-anchor="end">20</text>
<line x1="197.6" y1="738.07" x2="201.8" y2="738.07" stroke="#151515" stroke-width="1.6"/>
<text x="192.5" y="742.6" font-size="11.05" text-anchor="end">10</text>
<line x1="197.6" y1="761.5" x2="201.8" y2="761.5" stroke="#151515" stroke-width="1.6"/>
<text x="192.5" y="768.7" font-size="11.05" text-anchor="end">0</text>
<line x1="197.6" y1="761.5" x2="311.8" y2="761.5" stroke="#151515" stroke-width="1.6"/>
<line x1="255.8" y1="761.5" x2="255.8" y2="765" stroke="#151515" stroke-width="1.3"/>
<polyline points="222.6,761.5 222.6,723 249.2,723 249.2,761.5" fill="none" stroke="#151515" stroke-width="1.5" stroke-linejoin="miter"/>
<polyline points="263.5,761.5 263.5,739.1 290.1,739.1 290.1,761.5" fill="none" stroke="#b3282d" stroke-width="1.5" stroke-linejoin="miter"/>
<line x1="235.3" y1="717.9" x2="235.3" y2="727" stroke="#151515" stroke-width="1.3"/>
<line x1="228.9" y1="717.9" x2="241.7" y2="717.9" stroke="#151515" stroke-width="1.3"/>
<line x1="228.9" y1="727" x2="241.7" y2="727" stroke="#151515" stroke-width="1.3"/>
<line x1="279.8" y1="731.9" x2="279.8" y2="745.4" stroke="#151515" stroke-width="1.3"/>
<line x1="272.8" y1="731.9" x2="286.8" y2="731.9" stroke="#151515" stroke-width="1.3"/>
<line x1="272.8" y1="745.4" x2="286.8" y2="745.4" stroke="#151515" stroke-width="1.3"/>
<circle cx="232.9" cy="714.4" r="2.75" fill="none" stroke="#151515" stroke-width="1.35"/>
<circle cx="232.9" cy="721.4" r="2.75" fill="none" stroke="#151515" stroke-width="1.35"/>
<circle cx="224.2" cy="726.1" r="2.75" fill="none" stroke="#151515" stroke-width="1.35"/>
<circle cx="239.4" cy="726.8" r="2.75" fill="none" stroke="#151515" stroke-width="1.35"/>
<circle cx="246.9" cy="721.9" r="2.75" fill="none" stroke="#151515" stroke-width="1.35"/>
<circle cx="266.3" cy="738.9" r="2.75" fill="none" stroke="#b3282d" stroke-width="1.35"/>
<circle cx="273.3" cy="735.4" r="2.75" fill="none" stroke="#b3282d" stroke-width="1.35"/>
<circle cx="280.3" cy="733.5" r="2.75" fill="none" stroke="#b3282d" stroke-width="1.35"/>
<circle cx="287.8" cy="733.5" r="2.75" fill="none" stroke="#b3282d" stroke-width="1.35"/>
<circle cx="273.3" cy="750.6" r="2.75" fill="none" stroke="#b3282d" stroke-width="1.35"/>
<polyline points="233.6,702.7 233.6,692.9 276.8,692.9 276.8,719" fill="none" stroke="#151515" stroke-width="1.3" stroke-linejoin="miter"/>
<path d="M253.58,688.38L253.58,685.83M253.58,688.38L256,687.59M253.58,688.38L255.07,690.44M253.58,688.38L252.08,690.44M253.58,688.38L251.15,687.59" stroke="#151515" stroke-width="1.25" stroke-linecap="round" fill="none"/>
<path d="M261.03,688.38L261.03,685.83M261.03,688.38L263.45,687.59M261.03,688.38L262.52,690.44M261.03,688.38L259.53,690.44M261.03,688.38L258.6,687.59" stroke="#151515" stroke-width="1.25" stroke-linecap="round" fill="none"/>
<text x="170.6" y="735.9" font-size="11.05" text-anchor="middle" transform="rotate(-90 170.6 735.9)">Eeaten food (number)</text>
<text x="238.6" y="773.3" font-size="10.3" font-style="italic" text-anchor="end" transform="rotate(-26 238.6 773.3)">Gprasp2<tspan font-size="5.56" dy="-3.19">+/y</tspan></text>
<text x="285.8" y="773" font-size="10.3" font-style="italic" text-anchor="end" transform="rotate(-26 285.8 773)">Gprasp2<tspan font-size="5.56" dy="-3.19">-/y</tspan></text>
<text x="329.3" y="573.6" font-size="19.3">H</text>
<text x="379.2" y="579.3" font-size="11.05">Tail suspension test</text>
<line x1="383.6" y1="598.1" x2="383.6" y2="652.5" stroke="#151515" stroke-width="1.6"/>
<line x1="379.4" y1="598.1" x2="383.6" y2="598.1" stroke="#151515" stroke-width="1.6"/>
<text x="370.9" y="598.1" font-size="11.05" text-anchor="end">200</text>
<line x1="379.4" y1="625.4" x2="383.6" y2="625.4" stroke="#151515" stroke-width="1.6"/>
<text x="370.9" y="630.9" font-size="11.05" text-anchor="end">100</text>
<line x1="379.4" y1="652.5" x2="383.6" y2="652.5" stroke="#151515" stroke-width="1.6"/>
<text x="370.9" y="659.4" font-size="11.05" text-anchor="end">0</text>
<line x1="383.6" y1="652.4" x2="479.6" y2="652.4" stroke="#151515" stroke-width="1.6"/>
<line x1="413.5" y1="652.4" x2="413.5" y2="656" stroke="#151515" stroke-width="1.3"/>
<line x1="449.6" y1="652.4" x2="449.6" y2="656" stroke="#151515" stroke-width="1.3"/>
<polyline points="402.2,652.4 402.2,627.1 424.6,627.1 424.6,652.4" fill="none" stroke="#151515" stroke-width="1.5" stroke-linejoin="miter"/>
<polyline points="438,652.4 438,607.7 460.8,607.7 460.8,652.4" fill="none" stroke="#b3282d" stroke-width="1.5" stroke-linejoin="miter"/>
<line x1="413.3" y1="613.5" x2="413.3" y2="639.5" stroke="#151515" stroke-width="1.3"/>
<line x1="407.7" y1="613.5" x2="418.9" y2="613.5" stroke="#151515" stroke-width="1.3"/>
<line x1="407.7" y1="639.5" x2="418.9" y2="639.5" stroke="#151515" stroke-width="1.3"/>
<line x1="449.6" y1="602.1" x2="449.6" y2="613" stroke="#151515" stroke-width="1.3"/>
<line x1="444.4" y1="602.1" x2="454.8" y2="602.1" stroke="#151515" stroke-width="1.3"/>
<line x1="444.4" y1="613" x2="454.8" y2="613" stroke="#151515" stroke-width="1.3"/>
<circle cx="413.3" cy="607.7" r="2.7" fill="none" stroke="#151515" stroke-width="1.35"/>
<circle cx="403.7" cy="624.7" r="2.7" fill="none" stroke="#151515" stroke-width="1.35"/>
<circle cx="413.3" cy="628.6" r="2.7" fill="none" stroke="#151515" stroke-width="1.35"/>
<circle cx="423" cy="628.3" r="2.7" fill="none" stroke="#151515" stroke-width="1.35"/>
<circle cx="413.3" cy="643.8" r="2.7" fill="none" stroke="#151515" stroke-width="1.35"/>
<circle cx="449.6" cy="600.1" r="2.7" fill="none" stroke="#b3282d" stroke-width="1.35"/>
<circle cx="440" cy="606.6" r="2.7" fill="none" stroke="#b3282d" stroke-width="1.35"/>
<circle cx="449.6" cy="607.7" r="2.7" fill="none" stroke="#b3282d" stroke-width="1.35"/>
<circle cx="459.2" cy="606.9" r="2.7" fill="none" stroke="#b3282d" stroke-width="1.35"/>
<circle cx="449.6" cy="616.2" r="2.7" fill="none" stroke="#b3282d" stroke-width="1.35"/>
<polyline points="413.8,600.1 413.8,592 449.6,592 449.6,597.7" fill="none" stroke="#151515" stroke-width="1.3" stroke-linejoin="miter"/>
<path d="M432,585.27L432,582.73M432,585.27L434.43,584.49M432,585.27L433.5,587.34M432,585.27L430.5,587.34M432,585.27L429.57,584.49" stroke="#151515" stroke-width="1.25" stroke-linecap="round" fill="none"/>
<text x="347.3" y="621" font-size="11.05" text-anchor="middle" transform="rotate(-90 347.3 621)">Immobility (s)</text>
<text x="428.4" y="662.3" font-size="10.3" font-style="italic" text-anchor="end" transform="rotate(-26 428.4 662.3)">Gprasp2<tspan font-size="5.56" dy="-3.19">+/y</tspan></text>
<text x="464.5" y="662.6" font-size="10.3" font-style="italic" text-anchor="end" transform="rotate(-26 464.5 662.6)">Gprasp2<tspan font-size="5.56" dy="-3.19">-/y</tspan></text>
<line x1="383.7" y1="694.3" x2="383.7" y2="760.2" stroke="#151515" stroke-width="1.6"/>
<line x1="379.5" y1="694.3" x2="383.7" y2="694.3" stroke="#151515" stroke-width="1.6"/>
<text x="371.5" y="698.4" font-size="11.05" text-anchor="end">300</text>
<line x1="379.5" y1="716.27" x2="383.7" y2="716.27" stroke="#151515" stroke-width="1.6"/>
<text x="371.5" y="721.7" font-size="11.05" text-anchor="end">200</text>
<line x1="379.5" y1="738.23" x2="383.7" y2="738.23" stroke="#151515" stroke-width="1.6"/>
<text x="371.5" y="743.3" font-size="11.05" text-anchor="end">100</text>
<line x1="379.5" y1="760.2" x2="383.7" y2="760.2" stroke="#151515" stroke-width="1.6"/>
<text x="371.5" y="765.5" font-size="11.05" text-anchor="end">0</text>
<line x1="383.7" y1="760.2" x2="489.1" y2="760.2" stroke="#151515" stroke-width="1.6"/>
<line x1="416.2" y1="760.2" x2="416.2" y2="763.8" stroke="#151515" stroke-width="1.3"/>
<line x1="455.5" y1="760.2" x2="455.5" y2="763.8" stroke="#151515" stroke-width="1.3"/>
<polyline points="403.4,760.2 403.4,729.4 428.5,729.4 428.5,760.2" fill="none" stroke="#151515" stroke-width="1.5" stroke-linejoin="miter"/>
<polyline points="443,760.2 443,744.7 467.9,744.7 467.9,760.2" fill="none" stroke="#b3282d" stroke-width="1.5" stroke-linejoin="miter"/>
<line x1="416" y1="717.9" x2="416" y2="739.1" stroke="#151515" stroke-width="1.3"/>
<line x1="409.8" y1="717.9" x2="422.2" y2="717.9" stroke="#151515" stroke-width="1.3"/>
<line x1="409.8" y1="739.1" x2="422.2" y2="739.1" stroke="#151515" stroke-width="1.3"/>
<line x1="455.4" y1="739" x2="455.4" y2="748.2" stroke="#151515" stroke-width="1.3"/>
<line x1="449.4" y1="739" x2="461.4" y2="739" stroke="#151515" stroke-width="1.3"/>
<line x1="449.4" y1="748.2" x2="461.4" y2="748.2" stroke="#151515" stroke-width="1.3"/>
<circle cx="416" cy="714.2" r="2.7" fill="none" stroke="#151515" stroke-width="1.35"/>
<circle cx="405.7" cy="726.6" r="2.7" fill="none" stroke="#151515" stroke-width="1.35"/>
<circle cx="416" cy="729.9" r="2.7" fill="none" stroke="#151515" stroke-width="1.35"/>
<circle cx="426.9" cy="726.6" r="2.7" fill="none" stroke="#151515" stroke-width="1.35"/>
<circle cx="416" cy="743.8" r="2.7" fill="none" stroke="#151515" stroke-width="1.35"/>
<circle cx="455.5" cy="735.8" r="2.7" fill="none" stroke="#b3282d" stroke-width="1.35"/>
<circle cx="444.8" cy="743.2" r="2.7" fill="none" stroke="#b3282d" stroke-width="1.35"/>
<circle cx="455.5" cy="744.5" r="2.7" fill="none" stroke="#b3282d" stroke-width="1.35"/>
<circle cx="466.1" cy="745" r="2.7" fill="none" stroke="#b3282d" stroke-width="1.35"/>
<circle cx="444.8" cy="748.7" r="2.7" fill="none" stroke="#b3282d" stroke-width="1.35"/>
<polyline points="416.1,705.4 416.1,698.4 455.5,698.4 455.5,726.6" fill="none" stroke="#151515" stroke-width="1.3" stroke-linejoin="miter"/>
<path d="M435.1,690.97L435.1,688.42M435.1,690.97L437.53,690.19M435.1,690.97L436.6,693.04M435.1,690.97L433.6,693.04M435.1,690.97L432.67,690.19" stroke="#151515" stroke-width="1.25" stroke-linecap="round" fill="none"/>
<text x="346.8" y="722" font-size="11.05" text-anchor="middle" transform="rotate(-90 346.8 722)">Mobility (s)</text>
<text x="423.3" y="774" font-size="10.3" font-style="italic" text-anchor="end" transform="rotate(-26 423.3 774)">Gprasp2<tspan font-size="5.56" dy="-3.19">+/y</tspan></text>
<text x="459.9" y="773.4" font-size="10.3" font-style="italic" text-anchor="end" transform="rotate(-26 459.9 773.4)">Gprasp2<tspan font-size="5.56" dy="-3.19">-/y</tspan></text>
<text x="499.1" y="573.8" font-size="19.3">I</text>
<text x="564.6" y="584" font-size="11.05">Forced Swim test</text>
<line x1="556.2" y1="590.4" x2="556.2" y2="653.4" stroke="#151515" stroke-width="1.6"/>
<line x1="552" y1="590.4" x2="556.2" y2="590.4" stroke="#151515" stroke-width="1.6"/>
<text x="543.9" y="596.1" font-size="11.05" text-anchor="end">100</text>
<line x1="552" y1="622" x2="556.2" y2="622" stroke="#151515" stroke-width="1.6"/>
<text x="543.9" y="626.9" font-size="11.05" text-anchor="end">50</text>
<line x1="552" y1="653.4" x2="556.2" y2="653.4" stroke="#151515" stroke-width="1.6"/>
<text x="543.9" y="656.3" font-size="11.05" text-anchor="end">0</text>
<line x1="556.2" y1="653.5" x2="663" y2="653.5" stroke="#151515" stroke-width="1.6"/>
<line x1="589.7" y1="653.5" x2="589.7" y2="657" stroke="#151515" stroke-width="1.3"/>
<line x1="629.6" y1="653.5" x2="629.6" y2="657" stroke="#151515" stroke-width="1.3"/>
<polyline points="576.6,653.5 576.6,641.3 602.3,641.3 602.3,653.5" fill="none" stroke="#151515" stroke-width="1.5" stroke-linejoin="miter"/>
<polyline points="616.8,653.5 616.8,629.6 642.4,629.6 642.4,653.5" fill="none" stroke="#b3282d" stroke-width="1.5" stroke-linejoin="miter"/>
<line x1="589.6" y1="629.2" x2="589.6" y2="653.3" stroke="#151515" stroke-width="1.3"/>
<line x1="583.4" y1="629.2" x2="595.8" y2="629.2" stroke="#151515" stroke-width="1.3"/>
<line x1="583.4" y1="653.3" x2="595.8" y2="653.3" stroke="#151515" stroke-width="1.3"/>
<line x1="629.6" y1="619.6" x2="629.6" y2="638.4" stroke="#151515" stroke-width="1.3"/>
<line x1="623.4" y1="619.6" x2="635.8" y2="619.6" stroke="#151515" stroke-width="1.3"/>
<line x1="623.4" y1="638.4" x2="635.8" y2="638.4" stroke="#151515" stroke-width="1.3"/>
<circle cx="589.6" cy="622.5" r="2.7" fill="none" stroke="#151515" stroke-width="1.35"/>
<circle cx="589.6" cy="636.1" r="2.7" fill="none" stroke="#151515" stroke-width="1.35"/>
<circle cx="589.6" cy="643.4" r="2.7" fill="none" stroke="#151515" stroke-width="1.35"/>
<circle cx="578.7" cy="651.7" r="2.7" fill="none" stroke="#151515" stroke-width="1.35"/>
<circle cx="600.4" cy="650.9" r="2.7" fill="none" stroke="#151515" stroke-width="1.35"/>
<circle cx="629.6" cy="613.2" r="2.7" fill="none" stroke="#b3282d" stroke-width="1.35"/>
<circle cx="618.4" cy="629.7" r="2.7" fill="none" stroke="#b3282d" stroke-width="1.35"/>
<circle cx="629.6" cy="630.5" r="2.7" fill="none" stroke="#b3282d" stroke-width="1.35"/>
<circle cx="640.5" cy="634.1" r="2.7" fill="none" stroke="#b3282d" stroke-width="1.35"/>
<circle cx="618.4" cy="637.6" r="2.7" fill="none" stroke="#b3282d" stroke-width="1.35"/>
<polyline points="589.7,617.2 589.7,599.2 629.6,599.2 629.6,607.6" fill="none" stroke="#151515" stroke-width="1.3" stroke-linejoin="miter"/>
<text x="610.6" y="595.5" font-size="11.05" text-anchor="middle">n.s.</text>
<text x="516.8" y="621.6" font-size="11.05" text-anchor="middle" transform="rotate(-90 516.8 621.6)">Immobility (s)</text>
<text x="595.8" y="669" font-size="10.3" font-style="italic" text-anchor="end" transform="rotate(-26 595.8 669)">Gprasp2<tspan font-size="5.56" dy="-3.19">+/y</tspan></text>
<text x="639.1" y="668.2" font-size="10.3" font-style="italic" text-anchor="end" transform="rotate(-26 639.1 668.2)">Gprasp2<tspan font-size="5.56" dy="-3.19">-/y</tspan></text>
<line x1="553.8" y1="704.1" x2="553.8" y2="761.1" stroke="#151515" stroke-width="1.6"/>
<line x1="549.6" y1="704.1" x2="553.8" y2="704.1" stroke="#151515" stroke-width="1.6"/>
<text x="543.4" y="707.9" font-size="11.05" text-anchor="end">300</text>
<line x1="549.6" y1="723.1" x2="553.8" y2="723.1" stroke="#151515" stroke-width="1.6"/>
<text x="543.4" y="728.8" font-size="11.05" text-anchor="end">200</text>
<line x1="549.6" y1="742.1" x2="553.8" y2="742.1" stroke="#151515" stroke-width="1.6"/>
<text x="543.4" y="747.2" font-size="11.05" text-anchor="end">100</text>
<line x1="549.6" y1="761.1" x2="553.8" y2="761.1" stroke="#151515" stroke-width="1.6"/>
<text x="543.4" y="768.1" font-size="11.05" text-anchor="end">0</text>
<line x1="553.8" y1="761.1" x2="663.3" y2="761.1" stroke="#151515" stroke-width="1.6"/>
<line x1="587.5" y1="761.1" x2="587.5" y2="764.6" stroke="#151515" stroke-width="1.3"/>
<line x1="628.8" y1="761.1" x2="628.8" y2="764.6" stroke="#151515" stroke-width="1.3"/>
<polyline points="574.4,761.1 574.4,719.3 600.8,719.3 600.8,761.1" fill="none" stroke="#151515" stroke-width="1.5" stroke-linejoin="miter"/>
<polyline points="615.5,761.1 615.5,722.6 642.1,722.6 642.1,761.1" fill="none" stroke="#b3282d" stroke-width="1.5" stroke-linejoin="miter"/>
<line x1="587.5" y1="715.3" x2="587.5" y2="722.5" stroke="#151515" stroke-width="1.3"/>
<line x1="583" y1="715.3" x2="592" y2="715.3" stroke="#151515" stroke-width="1.3"/>
<line x1="583" y1="722.5" x2="592" y2="722.5" stroke="#151515" stroke-width="1.3"/>
<line x1="630.8" y1="719.8" x2="630.8" y2="725.8" stroke="#151515" stroke-width="1.3"/>
<line x1="626" y1="719.8" x2="635.6" y2="719.8" stroke="#151515" stroke-width="1.3"/>
<line x1="626" y1="725.8" x2="635.6" y2="725.8" stroke="#151515" stroke-width="1.3"/>
<circle cx="576.8" cy="718.5" r="2.7" fill="none" stroke="#151515" stroke-width="1.35"/>
<circle cx="583.8" cy="716.1" r="2.7" fill="none" stroke="#151515" stroke-width="1.35"/>
<circle cx="583.8" cy="725" r="2.7" fill="none" stroke="#151515" stroke-width="1.35"/>
<circle cx="591.5" cy="721" r="2.7" fill="none" stroke="#151515" stroke-width="1.35"/>
<circle cx="599.2" cy="716.6" r="2.7" fill="none" stroke="#151515" stroke-width="1.35"/>
<circle cx="617.6" cy="722.2" r="2.7" fill="none" stroke="#b3282d" stroke-width="1.35"/>
<circle cx="625.6" cy="719.8" r="2.7" fill="none" stroke="#b3282d" stroke-width="1.35"/>
<circle cx="625.6" cy="727.7" r="2.7" fill="none" stroke="#b3282d" stroke-width="1.35"/>
<circle cx="632.5" cy="723" r="2.7" fill="none" stroke="#b3282d" stroke-width="1.35"/>
<circle cx="640" cy="721.4" r="2.7" fill="none" stroke="#b3282d" stroke-width="1.35"/>
<polyline points="591.1,709.7 591.1,700.6 629.3,700.6 629.3,716.1" fill="none" stroke="#151515" stroke-width="1.3" stroke-linejoin="miter"/>
<text x="610.9" y="698.5" font-size="11.05" text-anchor="middle">n.s.</text>
<text x="516.8" y="731" font-size="11.05" text-anchor="middle" transform="rotate(-90 516.8 731)">Mobility (s)</text>
<text x="596.1" y="773.7" font-size="10.3" font-style="italic" text-anchor="end" transform="rotate(-26 596.1 773.7)">Gprasp2<tspan font-size="5.56" dy="-3.19">+/y</tspan></text>
<text x="640" y="773.6" font-size="10.3" font-style="italic" text-anchor="end" transform="rotate(-26 640 773.6)">Gprasp2<tspan font-size="5.56" dy="-3.19">-/y</tspan></text>
</svg>
</body></html>
